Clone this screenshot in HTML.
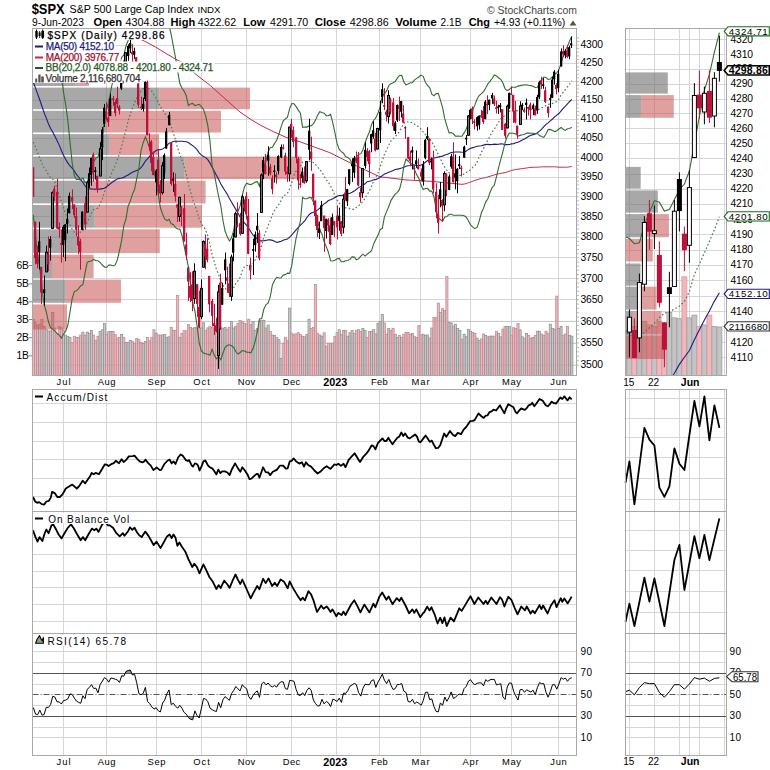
<!DOCTYPE html><html><head><meta charset="utf-8"><style>html,body{margin:0;padding:0;background:#fff;width:770px;height:770px;overflow:hidden}svg{display:block}</style></head><body><svg width="770" height="770" viewBox="0 0 770 770">
<rect width="770" height="770" fill="#fff"/>
<text x="31.7" y="14" font-family="Liberation Sans, sans-serif" font-size="15.5" font-weight="bold" fill="#000" textLength="33" lengthAdjust="spacingAndGlyphs">$SPX</text>
<text x="69.5" y="12.8" font-family="Liberation Sans, sans-serif" font-size="11.5" fill="#000" textLength="124" lengthAdjust="spacingAndGlyphs">S&amp;P 500 Large Cap Index</text>
<text x="197.5" y="12.5" font-family="Liberation Sans, sans-serif" font-size="9" fill="#000" textLength="23" lengthAdjust="spacingAndGlyphs">INDX</text>
<text x="487" y="13.5" font-family="Liberation Sans, sans-serif" font-size="11" fill="#444" textLength="90" lengthAdjust="spacingAndGlyphs">© StockCharts.com</text>
<text x="32" y="26" font-family="Liberation Sans, sans-serif" font-size="10.5" fill="#000" textLength="52.0" lengthAdjust="spacingAndGlyphs">9-Jun-2023</text>
<text x="93.5" y="26" font-family="Liberation Sans, sans-serif" font-size="11.5" font-weight="bold" fill="#000" textLength="28.5" lengthAdjust="spacingAndGlyphs">Open</text>
<text x="125.5" y="26" font-family="Liberation Sans, sans-serif" font-size="10.5" fill="#000" textLength="38.9" lengthAdjust="spacingAndGlyphs">4304.88</text>
<text x="170.6" y="26" font-family="Liberation Sans, sans-serif" font-size="11.5" font-weight="bold" fill="#000" textLength="24.6" lengthAdjust="spacingAndGlyphs">High</text>
<text x="197.8" y="26" font-family="Liberation Sans, sans-serif" font-size="10.5" fill="#000" textLength="38.4" lengthAdjust="spacingAndGlyphs">4322.62</text>
<text x="243.2" y="26" font-family="Liberation Sans, sans-serif" font-size="11.5" font-weight="bold" fill="#000" textLength="22.1" lengthAdjust="spacingAndGlyphs">Low</text>
<text x="270" y="26" font-family="Liberation Sans, sans-serif" font-size="10.5" fill="#000" textLength="38.2" lengthAdjust="spacingAndGlyphs">4291.70</text>
<text x="314.7" y="26" font-family="Liberation Sans, sans-serif" font-size="11.5" font-weight="bold" fill="#000" textLength="31.1" lengthAdjust="spacingAndGlyphs">Close</text>
<text x="349.7" y="26" font-family="Liberation Sans, sans-serif" font-size="10.5" fill="#000" textLength="39.0" lengthAdjust="spacingAndGlyphs">4298.86</text>
<text x="395.2" y="26" font-family="Liberation Sans, sans-serif" font-size="11.5" font-weight="bold" fill="#000" textLength="41.6" lengthAdjust="spacingAndGlyphs">Volume</text>
<text x="440.6" y="26" font-family="Liberation Sans, sans-serif" font-size="10.5" fill="#000" textLength="20.8" lengthAdjust="spacingAndGlyphs">2.1B</text>
<text x="468.7" y="26" font-family="Liberation Sans, sans-serif" font-size="11.5" font-weight="bold" fill="#000" textLength="21.3" lengthAdjust="spacingAndGlyphs">Chg</text>
<text x="493.9" y="26" font-family="Liberation Sans, sans-serif" font-size="10.5" fill="#000" textLength="71.4" lengthAdjust="spacingAndGlyphs">+4.93 (+0.11%)</text>
<path d="M569.5,25.5 L576.5,25.5 L573,20.5 Z" fill="#4a5a3a"/>
<line x1="32.5" y1="365.5" x2="576.5" y2="365.5" stroke="#d6d6d6" stroke-width="1"/>
<line x1="32.5" y1="343.5" x2="576.5" y2="343.5" stroke="#d6d6d6" stroke-width="1"/>
<line x1="32.5" y1="321.5" x2="576.5" y2="321.5" stroke="#d6d6d6" stroke-width="1"/>
<line x1="32.5" y1="299.5" x2="576.5" y2="299.5" stroke="#d6d6d6" stroke-width="1"/>
<line x1="32.5" y1="278.5" x2="576.5" y2="278.5" stroke="#d6d6d6" stroke-width="1"/>
<line x1="32.5" y1="257.5" x2="576.5" y2="257.5" stroke="#d6d6d6" stroke-width="1"/>
<line x1="32.5" y1="237.5" x2="576.5" y2="237.5" stroke="#d6d6d6" stroke-width="1"/>
<line x1="32.5" y1="216.5" x2="576.5" y2="216.5" stroke="#d6d6d6" stroke-width="1"/>
<line x1="32.5" y1="196.5" x2="576.5" y2="196.5" stroke="#d6d6d6" stroke-width="1"/>
<line x1="32.5" y1="177.5" x2="576.5" y2="177.5" stroke="#d6d6d6" stroke-width="1"/>
<line x1="32.5" y1="157.5" x2="576.5" y2="157.5" stroke="#d6d6d6" stroke-width="1"/>
<line x1="32.5" y1="138.5" x2="576.5" y2="138.5" stroke="#d6d6d6" stroke-width="1"/>
<line x1="32.5" y1="119.5" x2="576.5" y2="119.5" stroke="#d6d6d6" stroke-width="1"/>
<line x1="32.5" y1="100.5" x2="576.5" y2="100.5" stroke="#d6d6d6" stroke-width="1"/>
<line x1="32.5" y1="81.5" x2="576.5" y2="81.5" stroke="#d6d6d6" stroke-width="1"/>
<line x1="32.5" y1="63.5" x2="576.5" y2="63.5" stroke="#d6d6d6" stroke-width="1"/>
<line x1="32.5" y1="45.5" x2="576.5" y2="45.5" stroke="#d6d6d6" stroke-width="1"/>
<line x1="63.5" y1="28.5" x2="63.5" y2="375.5" stroke="#d6d6d6" stroke-width="1"/>
<line x1="106.5" y1="28.5" x2="106.5" y2="375.5" stroke="#d6d6d6" stroke-width="1"/>
<line x1="156.5" y1="28.5" x2="156.5" y2="375.5" stroke="#d6d6d6" stroke-width="1"/>
<line x1="201.5" y1="28.5" x2="201.5" y2="375.5" stroke="#d6d6d6" stroke-width="1"/>
<line x1="246.5" y1="28.5" x2="246.5" y2="375.5" stroke="#d6d6d6" stroke-width="1"/>
<line x1="291.5" y1="28.5" x2="291.5" y2="375.5" stroke="#d6d6d6" stroke-width="1"/>
<line x1="336.5" y1="28.5" x2="336.5" y2="375.5" stroke="#d6d6d6" stroke-width="1"/>
<line x1="379.5" y1="28.5" x2="379.5" y2="375.5" stroke="#d6d6d6" stroke-width="1"/>
<line x1="420.5" y1="28.5" x2="420.5" y2="375.5" stroke="#d6d6d6" stroke-width="1"/>
<line x1="470.5" y1="28.5" x2="470.5" y2="375.5" stroke="#d6d6d6" stroke-width="1"/>
<line x1="511.5" y1="28.5" x2="511.5" y2="375.5" stroke="#d6d6d6" stroke-width="1"/>
<line x1="558.5" y1="28.5" x2="558.5" y2="375.5" stroke="#d6d6d6" stroke-width="1"/>
<rect x="32.27" y="319.3" width="2.154" height="56.2" fill="#f4b4bc" stroke="#b88890" stroke-width="0.7"/>
<rect x="34.42" y="322.7" width="2.154" height="52.8" fill="#f4b4bc" stroke="#b88890" stroke-width="0.7"/>
<rect x="36.58" y="325.1" width="2.154" height="50.4" fill="#f4b4bc" stroke="#b88890" stroke-width="0.7"/>
<rect x="38.73" y="324.0" width="2.154" height="51.5" fill="#c8c8c8" stroke="#8c8c8c" stroke-width="0.7"/>
<rect x="40.88" y="319.3" width="2.154" height="56.2" fill="#f4b4bc" stroke="#b88890" stroke-width="0.7"/>
<rect x="43.04" y="326.3" width="2.154" height="49.2" fill="#c8c8c8" stroke="#8c8c8c" stroke-width="0.7"/>
<rect x="45.19" y="329.8" width="2.154" height="45.7" fill="#c8c8c8" stroke="#8c8c8c" stroke-width="0.7"/>
<rect x="47.34" y="331.0" width="2.154" height="44.5" fill="#f4b4bc" stroke="#b88890" stroke-width="0.7"/>
<rect x="49.50" y="331.0" width="2.154" height="44.5" fill="#c8c8c8" stroke="#8c8c8c" stroke-width="0.7"/>
<rect x="51.65" y="312.3" width="2.154" height="63.2" fill="#c8c8c8" stroke="#8c8c8c" stroke-width="0.7"/>
<rect x="53.81" y="328.0" width="2.154" height="47.5" fill="#f4b4bc" stroke="#b88890" stroke-width="0.7"/>
<rect x="55.96" y="333.9" width="2.154" height="41.6" fill="#f4b4bc" stroke="#b88890" stroke-width="0.7"/>
<rect x="58.12" y="326.3" width="2.154" height="49.2" fill="#f4b4bc" stroke="#b88890" stroke-width="0.7"/>
<rect x="60.27" y="327.8" width="2.154" height="47.7" fill="#f4b4bc" stroke="#b88890" stroke-width="0.7"/>
<rect x="62.42" y="330.4" width="2.154" height="45.1" fill="#c8c8c8" stroke="#8c8c8c" stroke-width="0.7"/>
<rect x="64.58" y="335.1" width="2.154" height="40.4" fill="#c8c8c8" stroke="#8c8c8c" stroke-width="0.7"/>
<rect x="66.73" y="336.4" width="2.154" height="39.1" fill="#c8c8c8" stroke="#8c8c8c" stroke-width="0.7"/>
<rect x="68.89" y="337.4" width="2.154" height="38.1" fill="#c8c8c8" stroke="#8c8c8c" stroke-width="0.7"/>
<rect x="71.04" y="342.7" width="2.154" height="32.8" fill="#f4b4bc" stroke="#b88890" stroke-width="0.7"/>
<rect x="73.19" y="336.2" width="2.154" height="39.3" fill="#f4b4bc" stroke="#b88890" stroke-width="0.7"/>
<rect x="75.35" y="337.4" width="2.154" height="38.1" fill="#f4b4bc" stroke="#b88890" stroke-width="0.7"/>
<rect x="77.50" y="337.4" width="2.154" height="38.1" fill="#f4b4bc" stroke="#b88890" stroke-width="0.7"/>
<rect x="79.66" y="335.1" width="2.154" height="40.4" fill="#f4b4bc" stroke="#b88890" stroke-width="0.7"/>
<rect x="81.81" y="332.1" width="2.154" height="43.4" fill="#c8c8c8" stroke="#8c8c8c" stroke-width="0.7"/>
<rect x="83.96" y="335.1" width="2.154" height="40.4" fill="#f4b4bc" stroke="#b88890" stroke-width="0.7"/>
<rect x="86.12" y="332.1" width="2.154" height="43.4" fill="#c8c8c8" stroke="#8c8c8c" stroke-width="0.7"/>
<rect x="88.27" y="333.3" width="2.154" height="42.2" fill="#c8c8c8" stroke="#8c8c8c" stroke-width="0.7"/>
<rect x="90.42" y="330.4" width="2.154" height="45.1" fill="#c8c8c8" stroke="#8c8c8c" stroke-width="0.7"/>
<rect x="92.58" y="335.1" width="2.154" height="40.4" fill="#f4b4bc" stroke="#b88890" stroke-width="0.7"/>
<rect x="94.73" y="340.3" width="2.154" height="35.2" fill="#c8c8c8" stroke="#8c8c8c" stroke-width="0.7"/>
<rect x="96.89" y="336.2" width="2.154" height="39.3" fill="#f4b4bc" stroke="#b88890" stroke-width="0.7"/>
<rect x="99.04" y="331.6" width="2.154" height="43.9" fill="#c8c8c8" stroke="#8c8c8c" stroke-width="0.7"/>
<rect x="101.19" y="329.8" width="2.154" height="45.7" fill="#c8c8c8" stroke="#8c8c8c" stroke-width="0.7"/>
<rect x="103.35" y="323.4" width="2.154" height="52.1" fill="#c8c8c8" stroke="#8c8c8c" stroke-width="0.7"/>
<rect x="105.50" y="334.5" width="2.154" height="41.0" fill="#f4b4bc" stroke="#b88890" stroke-width="0.7"/>
<rect x="107.66" y="331.6" width="2.154" height="43.9" fill="#f4b4bc" stroke="#b88890" stroke-width="0.7"/>
<rect x="109.81" y="331.6" width="2.154" height="43.9" fill="#c8c8c8" stroke="#8c8c8c" stroke-width="0.7"/>
<rect x="111.97" y="331.6" width="2.154" height="43.9" fill="#f4b4bc" stroke="#b88890" stroke-width="0.7"/>
<rect x="114.12" y="334.5" width="2.154" height="41.0" fill="#f4b4bc" stroke="#b88890" stroke-width="0.7"/>
<rect x="116.27" y="338.0" width="2.154" height="37.5" fill="#f4b4bc" stroke="#b88890" stroke-width="0.7"/>
<rect x="118.43" y="337.4" width="2.154" height="38.1" fill="#f4b4bc" stroke="#b88890" stroke-width="0.7"/>
<rect x="120.58" y="334.4" width="2.154" height="41.1" fill="#c8c8c8" stroke="#8c8c8c" stroke-width="0.7"/>
<rect x="122.73" y="337.3" width="2.154" height="38.2" fill="#f4b4bc" stroke="#b88890" stroke-width="0.7"/>
<rect x="124.89" y="342.6" width="2.154" height="32.9" fill="#c8c8c8" stroke="#8c8c8c" stroke-width="0.7"/>
<rect x="127.04" y="342.6" width="2.154" height="32.9" fill="#c8c8c8" stroke="#8c8c8c" stroke-width="0.7"/>
<rect x="129.20" y="340.3" width="2.154" height="35.2" fill="#c8c8c8" stroke="#8c8c8c" stroke-width="0.7"/>
<rect x="131.35" y="341.4" width="2.154" height="34.1" fill="#f4b4bc" stroke="#b88890" stroke-width="0.7"/>
<rect x="133.50" y="343.2" width="2.154" height="32.3" fill="#c8c8c8" stroke="#8c8c8c" stroke-width="0.7"/>
<rect x="135.66" y="338.5" width="2.154" height="37.0" fill="#f4b4bc" stroke="#b88890" stroke-width="0.7"/>
<rect x="137.81" y="339.7" width="2.154" height="35.8" fill="#f4b4bc" stroke="#b88890" stroke-width="0.7"/>
<rect x="139.97" y="342.6" width="2.154" height="32.9" fill="#f4b4bc" stroke="#b88890" stroke-width="0.7"/>
<rect x="142.12" y="343.2" width="2.154" height="32.3" fill="#c8c8c8" stroke="#8c8c8c" stroke-width="0.7"/>
<rect x="144.28" y="341.4" width="2.154" height="34.1" fill="#c8c8c8" stroke="#8c8c8c" stroke-width="0.7"/>
<rect x="146.43" y="337.3" width="2.154" height="38.2" fill="#f4b4bc" stroke="#b88890" stroke-width="0.7"/>
<rect x="148.58" y="340.8" width="2.154" height="34.7" fill="#f4b4bc" stroke="#b88890" stroke-width="0.7"/>
<rect x="150.74" y="337.3" width="2.154" height="38.2" fill="#f4b4bc" stroke="#b88890" stroke-width="0.7"/>
<rect x="152.89" y="329.7" width="2.154" height="45.8" fill="#f4b4bc" stroke="#b88890" stroke-width="0.7"/>
<rect x="155.05" y="333.2" width="2.154" height="42.3" fill="#c8c8c8" stroke="#8c8c8c" stroke-width="0.7"/>
<rect x="157.20" y="335.0" width="2.154" height="40.5" fill="#f4b4bc" stroke="#b88890" stroke-width="0.7"/>
<rect x="159.35" y="335.0" width="2.154" height="40.5" fill="#f4b4bc" stroke="#b88890" stroke-width="0.7"/>
<rect x="161.51" y="335.0" width="2.154" height="40.5" fill="#c8c8c8" stroke="#8c8c8c" stroke-width="0.7"/>
<rect x="163.66" y="334.4" width="2.154" height="41.1" fill="#c8c8c8" stroke="#8c8c8c" stroke-width="0.7"/>
<rect x="165.81" y="337.3" width="2.154" height="38.2" fill="#c8c8c8" stroke="#8c8c8c" stroke-width="0.7"/>
<rect x="167.97" y="336.8" width="2.154" height="38.7" fill="#c8c8c8" stroke="#8c8c8c" stroke-width="0.7"/>
<rect x="170.12" y="327.4" width="2.154" height="48.1" fill="#f4b4bc" stroke="#b88890" stroke-width="0.7"/>
<rect x="172.28" y="330.3" width="2.154" height="45.2" fill="#c8c8c8" stroke="#8c8c8c" stroke-width="0.7"/>
<rect x="174.43" y="330.3" width="2.154" height="45.2" fill="#f4b4bc" stroke="#b88890" stroke-width="0.7"/>
<rect x="176.58" y="295.3" width="2.154" height="80.2" fill="#f4b4bc" stroke="#b88890" stroke-width="0.7"/>
<rect x="178.74" y="337.3" width="2.154" height="38.2" fill="#c8c8c8" stroke="#8c8c8c" stroke-width="0.7"/>
<rect x="180.89" y="333.2" width="2.154" height="42.3" fill="#f4b4bc" stroke="#b88890" stroke-width="0.7"/>
<rect x="183.05" y="330.3" width="2.154" height="45.2" fill="#f4b4bc" stroke="#b88890" stroke-width="0.7"/>
<rect x="185.20" y="330.9" width="2.154" height="44.6" fill="#f4b4bc" stroke="#b88890" stroke-width="0.7"/>
<rect x="187.35" y="324.5" width="2.154" height="51.0" fill="#f4b4bc" stroke="#b88890" stroke-width="0.7"/>
<rect x="189.51" y="327.4" width="2.154" height="48.1" fill="#f4b4bc" stroke="#b88890" stroke-width="0.7"/>
<rect x="191.66" y="328.6" width="2.154" height="46.9" fill="#f4b4bc" stroke="#b88890" stroke-width="0.7"/>
<rect x="193.82" y="327.4" width="2.154" height="48.1" fill="#c8c8c8" stroke="#8c8c8c" stroke-width="0.7"/>
<rect x="195.97" y="328.0" width="2.154" height="47.5" fill="#f4b4bc" stroke="#b88890" stroke-width="0.7"/>
<rect x="198.12" y="328.0" width="2.154" height="47.5" fill="#f4b4bc" stroke="#b88890" stroke-width="0.7"/>
<rect x="200.28" y="328.0" width="2.154" height="47.5" fill="#c8c8c8" stroke="#8c8c8c" stroke-width="0.7"/>
<rect x="202.43" y="322.7" width="2.154" height="52.8" fill="#c8c8c8" stroke="#8c8c8c" stroke-width="0.7"/>
<rect x="204.59" y="330.3" width="2.154" height="45.2" fill="#f4b4bc" stroke="#b88890" stroke-width="0.7"/>
<rect x="206.74" y="327.9" width="2.154" height="47.6" fill="#f4b4bc" stroke="#b88890" stroke-width="0.7"/>
<rect x="208.89" y="326.2" width="2.154" height="49.3" fill="#f4b4bc" stroke="#b88890" stroke-width="0.7"/>
<rect x="211.05" y="327.4" width="2.154" height="48.1" fill="#f4b4bc" stroke="#b88890" stroke-width="0.7"/>
<rect x="213.20" y="328.6" width="2.154" height="46.9" fill="#f4b4bc" stroke="#b88890" stroke-width="0.7"/>
<rect x="215.36" y="326.2" width="2.154" height="49.3" fill="#f4b4bc" stroke="#b88890" stroke-width="0.7"/>
<rect x="217.51" y="327.4" width="2.154" height="48.1" fill="#c8c8c8" stroke="#8c8c8c" stroke-width="0.7"/>
<rect x="219.66" y="327.4" width="2.154" height="48.1" fill="#f4b4bc" stroke="#b88890" stroke-width="0.7"/>
<rect x="221.82" y="328.6" width="2.154" height="46.9" fill="#c8c8c8" stroke="#8c8c8c" stroke-width="0.7"/>
<rect x="223.97" y="327.4" width="2.154" height="48.1" fill="#c8c8c8" stroke="#8c8c8c" stroke-width="0.7"/>
<rect x="226.13" y="329.2" width="2.154" height="46.3" fill="#f4b4bc" stroke="#b88890" stroke-width="0.7"/>
<rect x="228.28" y="327.4" width="2.154" height="48.1" fill="#f4b4bc" stroke="#b88890" stroke-width="0.7"/>
<rect x="230.44" y="321.6" width="2.154" height="53.9" fill="#c8c8c8" stroke="#8c8c8c" stroke-width="0.7"/>
<rect x="232.59" y="328.0" width="2.154" height="47.5" fill="#c8c8c8" stroke="#8c8c8c" stroke-width="0.7"/>
<rect x="234.74" y="326.2" width="2.154" height="49.3" fill="#c8c8c8" stroke="#8c8c8c" stroke-width="0.7"/>
<rect x="236.90" y="323.3" width="2.154" height="52.2" fill="#f4b4bc" stroke="#b88890" stroke-width="0.7"/>
<rect x="239.05" y="320.4" width="2.154" height="55.1" fill="#f4b4bc" stroke="#b88890" stroke-width="0.7"/>
<rect x="241.20" y="321.9" width="2.154" height="53.6" fill="#c8c8c8" stroke="#8c8c8c" stroke-width="0.7"/>
<rect x="243.36" y="323.3" width="2.154" height="52.2" fill="#f4b4bc" stroke="#b88890" stroke-width="0.7"/>
<rect x="245.51" y="323.9" width="2.154" height="51.6" fill="#f4b4bc" stroke="#b88890" stroke-width="0.7"/>
<rect x="247.67" y="319.2" width="2.154" height="56.3" fill="#f4b4bc" stroke="#b88890" stroke-width="0.7"/>
<rect x="249.82" y="324.5" width="2.154" height="51.0" fill="#f4b4bc" stroke="#b88890" stroke-width="0.7"/>
<rect x="251.97" y="321.6" width="2.154" height="53.9" fill="#c8c8c8" stroke="#8c8c8c" stroke-width="0.7"/>
<rect x="254.13" y="330.3" width="2.154" height="45.2" fill="#c8c8c8" stroke="#8c8c8c" stroke-width="0.7"/>
<rect x="256.28" y="328.6" width="2.154" height="46.9" fill="#c8c8c8" stroke="#8c8c8c" stroke-width="0.7"/>
<rect x="258.44" y="321.0" width="2.154" height="54.5" fill="#f4b4bc" stroke="#b88890" stroke-width="0.7"/>
<rect x="260.59" y="320.7" width="2.154" height="54.8" fill="#c8c8c8" stroke="#8c8c8c" stroke-width="0.7"/>
<rect x="262.75" y="320.4" width="2.154" height="55.1" fill="#c8c8c8" stroke="#8c8c8c" stroke-width="0.7"/>
<rect x="264.90" y="328.0" width="2.154" height="47.5" fill="#f4b4bc" stroke="#b88890" stroke-width="0.7"/>
<rect x="267.05" y="325.1" width="2.154" height="50.4" fill="#c8c8c8" stroke="#8c8c8c" stroke-width="0.7"/>
<rect x="269.21" y="331.5" width="2.154" height="44.0" fill="#f4b4bc" stroke="#b88890" stroke-width="0.7"/>
<rect x="271.36" y="335.0" width="2.154" height="40.5" fill="#f4b4bc" stroke="#b88890" stroke-width="0.7"/>
<rect x="273.51" y="335.6" width="2.154" height="39.9" fill="#c8c8c8" stroke="#8c8c8c" stroke-width="0.7"/>
<rect x="275.67" y="337.3" width="2.154" height="38.2" fill="#f4b4bc" stroke="#b88890" stroke-width="0.7"/>
<rect x="277.82" y="339.7" width="2.154" height="35.8" fill="#c8c8c8" stroke="#8c8c8c" stroke-width="0.7"/>
<rect x="279.98" y="358.4" width="2.154" height="17.1" fill="#c8c8c8" stroke="#8c8c8c" stroke-width="0.7"/>
<rect x="282.13" y="343.2" width="2.154" height="32.3" fill="#f4b4bc" stroke="#b88890" stroke-width="0.7"/>
<rect x="284.28" y="337.3" width="2.154" height="38.2" fill="#f4b4bc" stroke="#b88890" stroke-width="0.7"/>
<rect x="286.44" y="340.3" width="2.154" height="35.2" fill="#f4b4bc" stroke="#b88890" stroke-width="0.7"/>
<rect x="288.59" y="308.1" width="2.154" height="67.4" fill="#c8c8c8" stroke="#8c8c8c" stroke-width="0.7"/>
<rect x="290.75" y="333.2" width="2.154" height="42.3" fill="#f4b4bc" stroke="#b88890" stroke-width="0.7"/>
<rect x="292.90" y="334.4" width="2.154" height="41.1" fill="#f4b4bc" stroke="#b88890" stroke-width="0.7"/>
<rect x="295.06" y="333.8" width="2.154" height="41.7" fill="#f4b4bc" stroke="#b88890" stroke-width="0.7"/>
<rect x="297.21" y="332.7" width="2.154" height="42.8" fill="#f4b4bc" stroke="#b88890" stroke-width="0.7"/>
<rect x="299.36" y="334.4" width="2.154" height="41.1" fill="#f4b4bc" stroke="#b88890" stroke-width="0.7"/>
<rect x="301.52" y="336.2" width="2.154" height="39.3" fill="#c8c8c8" stroke="#8c8c8c" stroke-width="0.7"/>
<rect x="303.67" y="336.8" width="2.154" height="38.7" fill="#f4b4bc" stroke="#b88890" stroke-width="0.7"/>
<rect x="305.82" y="334.4" width="2.154" height="41.1" fill="#c8c8c8" stroke="#8c8c8c" stroke-width="0.7"/>
<rect x="307.98" y="319.2" width="2.154" height="56.3" fill="#c8c8c8" stroke="#8c8c8c" stroke-width="0.7"/>
<rect x="310.13" y="328.6" width="2.154" height="46.9" fill="#f4b4bc" stroke="#b88890" stroke-width="0.7"/>
<rect x="312.29" y="327.4" width="2.154" height="48.1" fill="#f4b4bc" stroke="#b88890" stroke-width="0.7"/>
<rect x="314.44" y="284.4" width="2.154" height="91.1" fill="#f4b4bc" stroke="#b88890" stroke-width="0.7"/>
<rect x="316.60" y="333.2" width="2.154" height="42.3" fill="#f4b4bc" stroke="#b88890" stroke-width="0.7"/>
<rect x="318.75" y="335.0" width="2.154" height="40.5" fill="#c8c8c8" stroke="#8c8c8c" stroke-width="0.7"/>
<rect x="320.90" y="336.2" width="2.154" height="39.3" fill="#c8c8c8" stroke="#8c8c8c" stroke-width="0.7"/>
<rect x="323.06" y="332.7" width="2.154" height="42.8" fill="#f4b4bc" stroke="#b88890" stroke-width="0.7"/>
<rect x="325.21" y="346.1" width="2.154" height="29.4" fill="#c8c8c8" stroke="#8c8c8c" stroke-width="0.7"/>
<rect x="327.37" y="343.2" width="2.154" height="32.3" fill="#f4b4bc" stroke="#b88890" stroke-width="0.7"/>
<rect x="329.52" y="343.2" width="2.154" height="32.3" fill="#f4b4bc" stroke="#b88890" stroke-width="0.7"/>
<rect x="331.67" y="343.2" width="2.154" height="32.3" fill="#c8c8c8" stroke="#8c8c8c" stroke-width="0.7"/>
<rect x="333.83" y="336.3" width="2.154" height="39.2" fill="#f4b4bc" stroke="#b88890" stroke-width="0.7"/>
<rect x="335.98" y="332.7" width="2.154" height="42.8" fill="#f4b4bc" stroke="#b88890" stroke-width="0.7"/>
<rect x="338.13" y="329.7" width="2.154" height="45.8" fill="#c8c8c8" stroke="#8c8c8c" stroke-width="0.7"/>
<rect x="340.29" y="334.4" width="2.154" height="41.1" fill="#f4b4bc" stroke="#b88890" stroke-width="0.7"/>
<rect x="342.44" y="330.3" width="2.154" height="45.2" fill="#c8c8c8" stroke="#8c8c8c" stroke-width="0.7"/>
<rect x="344.60" y="330.3" width="2.154" height="45.2" fill="#f4b4bc" stroke="#b88890" stroke-width="0.7"/>
<rect x="346.75" y="336.2" width="2.154" height="39.3" fill="#c8c8c8" stroke="#8c8c8c" stroke-width="0.7"/>
<rect x="348.90" y="332.7" width="2.154" height="42.8" fill="#c8c8c8" stroke="#8c8c8c" stroke-width="0.7"/>
<rect x="351.06" y="330.3" width="2.154" height="45.2" fill="#c8c8c8" stroke="#8c8c8c" stroke-width="0.7"/>
<rect x="353.21" y="333.2" width="2.154" height="42.3" fill="#c8c8c8" stroke="#8c8c8c" stroke-width="0.7"/>
<rect x="355.37" y="330.3" width="2.154" height="45.2" fill="#f4b4bc" stroke="#b88890" stroke-width="0.7"/>
<rect x="357.52" y="329.7" width="2.154" height="45.8" fill="#f4b4bc" stroke="#b88890" stroke-width="0.7"/>
<rect x="359.68" y="331.5" width="2.154" height="44.0" fill="#f4b4bc" stroke="#b88890" stroke-width="0.7"/>
<rect x="361.83" y="328.6" width="2.154" height="46.9" fill="#c8c8c8" stroke="#8c8c8c" stroke-width="0.7"/>
<rect x="363.98" y="330.3" width="2.154" height="45.2" fill="#c8c8c8" stroke="#8c8c8c" stroke-width="0.7"/>
<rect x="366.14" y="337.3" width="2.154" height="38.2" fill="#f4b4bc" stroke="#b88890" stroke-width="0.7"/>
<rect x="368.29" y="331.5" width="2.154" height="44.0" fill="#f4b4bc" stroke="#b88890" stroke-width="0.7"/>
<rect x="370.44" y="331.5" width="2.154" height="44.0" fill="#c8c8c8" stroke="#8c8c8c" stroke-width="0.7"/>
<rect x="372.60" y="329.7" width="2.154" height="45.8" fill="#c8c8c8" stroke="#8c8c8c" stroke-width="0.7"/>
<rect x="374.75" y="333.8" width="2.154" height="41.7" fill="#f4b4bc" stroke="#b88890" stroke-width="0.7"/>
<rect x="376.91" y="323.3" width="2.154" height="52.2" fill="#c8c8c8" stroke="#8c8c8c" stroke-width="0.7"/>
<rect x="379.06" y="321.6" width="2.154" height="53.9" fill="#c8c8c8" stroke="#8c8c8c" stroke-width="0.7"/>
<rect x="381.21" y="314.5" width="2.154" height="61.0" fill="#c8c8c8" stroke="#8c8c8c" stroke-width="0.7"/>
<rect x="383.37" y="323.0" width="2.154" height="52.5" fill="#f4b4bc" stroke="#b88890" stroke-width="0.7"/>
<rect x="385.52" y="334.2" width="2.154" height="41.3" fill="#f4b4bc" stroke="#b88890" stroke-width="0.7"/>
<rect x="387.68" y="328.6" width="2.154" height="46.9" fill="#c8c8c8" stroke="#8c8c8c" stroke-width="0.7"/>
<rect x="389.83" y="330.5" width="2.154" height="45.0" fill="#f4b4bc" stroke="#b88890" stroke-width="0.7"/>
<rect x="391.99" y="328.6" width="2.154" height="46.9" fill="#f4b4bc" stroke="#b88890" stroke-width="0.7"/>
<rect x="394.14" y="334.2" width="2.154" height="41.3" fill="#c8c8c8" stroke="#8c8c8c" stroke-width="0.7"/>
<rect x="396.29" y="337.4" width="2.154" height="38.1" fill="#c8c8c8" stroke="#8c8c8c" stroke-width="0.7"/>
<rect x="398.45" y="335.5" width="2.154" height="40.0" fill="#f4b4bc" stroke="#b88890" stroke-width="0.7"/>
<rect x="400.60" y="337.4" width="2.154" height="38.1" fill="#c8c8c8" stroke="#8c8c8c" stroke-width="0.7"/>
<rect x="402.75" y="334.2" width="2.154" height="41.3" fill="#f4b4bc" stroke="#b88890" stroke-width="0.7"/>
<rect x="404.91" y="332.4" width="2.154" height="43.1" fill="#f4b4bc" stroke="#b88890" stroke-width="0.7"/>
<rect x="407.06" y="332.4" width="2.154" height="43.1" fill="#f4b4bc" stroke="#b88890" stroke-width="0.7"/>
<rect x="409.22" y="334.2" width="2.154" height="41.3" fill="#f4b4bc" stroke="#b88890" stroke-width="0.7"/>
<rect x="411.37" y="333.6" width="2.154" height="41.9" fill="#c8c8c8" stroke="#8c8c8c" stroke-width="0.7"/>
<rect x="413.52" y="336.7" width="2.154" height="38.8" fill="#f4b4bc" stroke="#b88890" stroke-width="0.7"/>
<rect x="415.68" y="337.4" width="2.154" height="38.1" fill="#c8c8c8" stroke="#8c8c8c" stroke-width="0.7"/>
<rect x="417.83" y="325.5" width="2.154" height="50.0" fill="#f4b4bc" stroke="#b88890" stroke-width="0.7"/>
<rect x="419.99" y="334.9" width="2.154" height="40.6" fill="#f4b4bc" stroke="#b88890" stroke-width="0.7"/>
<rect x="422.14" y="334.2" width="2.154" height="41.3" fill="#c8c8c8" stroke="#8c8c8c" stroke-width="0.7"/>
<rect x="424.29" y="335.5" width="2.154" height="40.0" fill="#c8c8c8" stroke="#8c8c8c" stroke-width="0.7"/>
<rect x="426.45" y="334.9" width="2.154" height="40.6" fill="#c8c8c8" stroke="#8c8c8c" stroke-width="0.7"/>
<rect x="428.60" y="338.0" width="2.154" height="37.5" fill="#f4b4bc" stroke="#b88890" stroke-width="0.7"/>
<rect x="430.76" y="328.0" width="2.154" height="47.5" fill="#c8c8c8" stroke="#8c8c8c" stroke-width="0.7"/>
<rect x="432.91" y="317.4" width="2.154" height="58.1" fill="#f4b4bc" stroke="#b88890" stroke-width="0.7"/>
<rect x="435.06" y="317.4" width="2.154" height="58.1" fill="#f4b4bc" stroke="#b88890" stroke-width="0.7"/>
<rect x="437.22" y="303.1" width="2.154" height="72.4" fill="#f4b4bc" stroke="#b88890" stroke-width="0.7"/>
<rect x="439.37" y="312.4" width="2.154" height="63.1" fill="#c8c8c8" stroke="#8c8c8c" stroke-width="0.7"/>
<rect x="441.53" y="308.7" width="2.154" height="66.8" fill="#f4b4bc" stroke="#b88890" stroke-width="0.7"/>
<rect x="443.68" y="310.5" width="2.154" height="65.0" fill="#c8c8c8" stroke="#8c8c8c" stroke-width="0.7"/>
<rect x="445.83" y="276.6" width="2.154" height="98.9" fill="#f4b4bc" stroke="#b88890" stroke-width="0.7"/>
<rect x="447.99" y="322.4" width="2.154" height="53.1" fill="#c8c8c8" stroke="#8c8c8c" stroke-width="0.7"/>
<rect x="450.14" y="323.0" width="2.154" height="52.5" fill="#c8c8c8" stroke="#8c8c8c" stroke-width="0.7"/>
<rect x="452.30" y="326.1" width="2.154" height="49.4" fill="#f4b4bc" stroke="#b88890" stroke-width="0.7"/>
<rect x="454.45" y="324.3" width="2.154" height="51.2" fill="#c8c8c8" stroke="#8c8c8c" stroke-width="0.7"/>
<rect x="456.60" y="328.6" width="2.154" height="46.9" fill="#c8c8c8" stroke="#8c8c8c" stroke-width="0.7"/>
<rect x="458.76" y="330.5" width="2.154" height="45.0" fill="#c8c8c8" stroke="#8c8c8c" stroke-width="0.7"/>
<rect x="460.91" y="339.2" width="2.154" height="36.3" fill="#f4b4bc" stroke="#b88890" stroke-width="0.7"/>
<rect x="463.07" y="334.2" width="2.154" height="41.3" fill="#c8c8c8" stroke="#8c8c8c" stroke-width="0.7"/>
<rect x="465.22" y="336.7" width="2.154" height="38.8" fill="#c8c8c8" stroke="#8c8c8c" stroke-width="0.7"/>
<rect x="467.38" y="329.3" width="2.154" height="46.2" fill="#c8c8c8" stroke="#8c8c8c" stroke-width="0.7"/>
<rect x="469.53" y="331.2" width="2.154" height="44.3" fill="#c8c8c8" stroke="#8c8c8c" stroke-width="0.7"/>
<rect x="471.68" y="332.4" width="2.154" height="43.1" fill="#f4b4bc" stroke="#b88890" stroke-width="0.7"/>
<rect x="473.84" y="333.3" width="2.154" height="42.2" fill="#f4b4bc" stroke="#b88890" stroke-width="0.7"/>
<rect x="475.99" y="338.2" width="2.154" height="37.3" fill="#c8c8c8" stroke="#8c8c8c" stroke-width="0.7"/>
<rect x="478.14" y="340.3" width="2.154" height="35.2" fill="#c8c8c8" stroke="#8c8c8c" stroke-width="0.7"/>
<rect x="480.30" y="338.9" width="2.154" height="36.6" fill="#f4b4bc" stroke="#b88890" stroke-width="0.7"/>
<rect x="482.45" y="334.0" width="2.154" height="41.5" fill="#f4b4bc" stroke="#b88890" stroke-width="0.7"/>
<rect x="484.61" y="335.4" width="2.154" height="40.1" fill="#c8c8c8" stroke="#8c8c8c" stroke-width="0.7"/>
<rect x="486.76" y="336.8" width="2.154" height="38.7" fill="#f4b4bc" stroke="#b88890" stroke-width="0.7"/>
<rect x="488.91" y="336.1" width="2.154" height="39.4" fill="#c8c8c8" stroke="#8c8c8c" stroke-width="0.7"/>
<rect x="491.07" y="336.1" width="2.154" height="39.4" fill="#c8c8c8" stroke="#8c8c8c" stroke-width="0.7"/>
<rect x="493.22" y="336.1" width="2.154" height="39.4" fill="#f4b4bc" stroke="#b88890" stroke-width="0.7"/>
<rect x="495.38" y="331.2" width="2.154" height="44.3" fill="#f4b4bc" stroke="#b88890" stroke-width="0.7"/>
<rect x="497.53" y="333.3" width="2.154" height="42.2" fill="#c8c8c8" stroke="#8c8c8c" stroke-width="0.7"/>
<rect x="499.69" y="336.8" width="2.154" height="38.7" fill="#c8c8c8" stroke="#8c8c8c" stroke-width="0.7"/>
<rect x="501.84" y="329.1" width="2.154" height="46.4" fill="#f4b4bc" stroke="#b88890" stroke-width="0.7"/>
<rect x="503.99" y="326.3" width="2.154" height="49.2" fill="#f4b4bc" stroke="#b88890" stroke-width="0.7"/>
<rect x="506.15" y="326.3" width="2.154" height="49.2" fill="#c8c8c8" stroke="#8c8c8c" stroke-width="0.7"/>
<rect x="508.30" y="326.3" width="2.154" height="49.2" fill="#c8c8c8" stroke="#8c8c8c" stroke-width="0.7"/>
<rect x="510.45" y="335.4" width="2.154" height="40.1" fill="#f4b4bc" stroke="#b88890" stroke-width="0.7"/>
<rect x="512.61" y="327.7" width="2.154" height="47.8" fill="#f4b4bc" stroke="#b88890" stroke-width="0.7"/>
<rect x="514.76" y="328.4" width="2.154" height="47.1" fill="#f4b4bc" stroke="#b88890" stroke-width="0.7"/>
<rect x="516.92" y="323.5" width="2.154" height="52.0" fill="#f4b4bc" stroke="#b88890" stroke-width="0.7"/>
<rect x="519.07" y="329.8" width="2.154" height="45.7" fill="#c8c8c8" stroke="#8c8c8c" stroke-width="0.7"/>
<rect x="521.22" y="336.8" width="2.154" height="38.7" fill="#c8c8c8" stroke="#8c8c8c" stroke-width="0.7"/>
<rect x="523.38" y="338.2" width="2.154" height="37.3" fill="#f4b4bc" stroke="#b88890" stroke-width="0.7"/>
<rect x="525.53" y="333.3" width="2.154" height="42.2" fill="#c8c8c8" stroke="#8c8c8c" stroke-width="0.7"/>
<rect x="527.69" y="335.4" width="2.154" height="40.1" fill="#f4b4bc" stroke="#b88890" stroke-width="0.7"/>
<rect x="529.84" y="338.2" width="2.154" height="37.3" fill="#f4b4bc" stroke="#b88890" stroke-width="0.7"/>
<rect x="532.00" y="337.5" width="2.154" height="38.0" fill="#c8c8c8" stroke="#8c8c8c" stroke-width="0.7"/>
<rect x="534.15" y="335.4" width="2.154" height="40.1" fill="#f4b4bc" stroke="#b88890" stroke-width="0.7"/>
<rect x="536.30" y="331.2" width="2.154" height="44.3" fill="#c8c8c8" stroke="#8c8c8c" stroke-width="0.7"/>
<rect x="538.46" y="331.2" width="2.154" height="44.3" fill="#c8c8c8" stroke="#8c8c8c" stroke-width="0.7"/>
<rect x="540.61" y="334.0" width="2.154" height="41.5" fill="#f4b4bc" stroke="#b88890" stroke-width="0.7"/>
<rect x="542.76" y="335.4" width="2.154" height="40.1" fill="#c8c8c8" stroke="#8c8c8c" stroke-width="0.7"/>
<rect x="544.92" y="331.2" width="2.154" height="44.3" fill="#f4b4bc" stroke="#b88890" stroke-width="0.7"/>
<rect x="547.07" y="333.3" width="2.154" height="42.2" fill="#f4b4bc" stroke="#b88890" stroke-width="0.7"/>
<rect x="549.23" y="324.2" width="2.154" height="51.3" fill="#c8c8c8" stroke="#8c8c8c" stroke-width="0.7"/>
<rect x="551.38" y="328.4" width="2.154" height="47.1" fill="#c8c8c8" stroke="#8c8c8c" stroke-width="0.7"/>
<rect x="553.53" y="329.1" width="2.154" height="46.4" fill="#c8c8c8" stroke="#8c8c8c" stroke-width="0.7"/>
<rect x="555.69" y="296.1" width="2.154" height="79.4" fill="#f4b4bc" stroke="#b88890" stroke-width="0.7"/>
<rect x="557.84" y="328.4" width="2.154" height="47.1" fill="#c8c8c8" stroke="#8c8c8c" stroke-width="0.7"/>
<rect x="560.00" y="326.3" width="2.154" height="49.2" fill="#c8c8c8" stroke="#8c8c8c" stroke-width="0.7"/>
<rect x="562.15" y="335.4" width="2.154" height="40.1" fill="#f4b4bc" stroke="#b88890" stroke-width="0.7"/>
<rect x="564.31" y="334.0" width="2.154" height="41.5" fill="#c8c8c8" stroke="#8c8c8c" stroke-width="0.7"/>
<rect x="566.46" y="326.3" width="2.154" height="49.2" fill="#f4b4bc" stroke="#b88890" stroke-width="0.7"/>
<rect x="568.61" y="335.4" width="2.154" height="40.1" fill="#c8c8c8" stroke="#8c8c8c" stroke-width="0.7"/>
<rect x="570.77" y="336.1" width="2.154" height="39.4" fill="#c8c8c8" stroke="#8c8c8c" stroke-width="0.7"/>
<rect x="32.5" y="64.8" width="42.5" height="21.2" fill="#6e6e6e" fill-opacity="0.6"/>
<rect x="75.0" y="64.8" width="14.0" height="21.2" fill="#c85050" fill-opacity="0.54"/>
<rect x="32.5" y="87.6" width="127.0" height="21.6" fill="#6e6e6e" fill-opacity="0.6"/>
<rect x="159.5" y="87.6" width="90.5" height="21.6" fill="#c85050" fill-opacity="0.54"/>
<rect x="32.5" y="110.8" width="73.5" height="21.7" fill="#6e6e6e" fill-opacity="0.6"/>
<rect x="106.0" y="110.8" width="115.0" height="21.7" fill="#c85050" fill-opacity="0.54"/>
<rect x="32.5" y="134.1" width="77.2" height="20.9" fill="#6e6e6e" fill-opacity="0.6"/>
<rect x="109.7" y="134.1" width="49.3" height="20.9" fill="#c85050" fill-opacity="0.54"/>
<rect x="32.5" y="156.6" width="152.0" height="22.5" fill="#6e6e6e" fill-opacity="0.6"/>
<rect x="184.5" y="156.6" width="117.2" height="22.5" fill="#c85050" fill-opacity="0.54"/>
<rect x="32.5" y="180.7" width="55.0" height="22.7" fill="#6e6e6e" fill-opacity="0.6"/>
<rect x="87.5" y="180.7" width="118.1" height="22.7" fill="#c85050" fill-opacity="0.54"/>
<rect x="32.5" y="205.0" width="62.1" height="22.7" fill="#6e6e6e" fill-opacity="0.6"/>
<rect x="94.6" y="205.0" width="107.4" height="22.7" fill="#c85050" fill-opacity="0.54"/>
<rect x="32.5" y="229.3" width="44.5" height="23.8" fill="#6e6e6e" fill-opacity="0.6"/>
<rect x="77.0" y="229.3" width="82.8" height="23.8" fill="#c85050" fill-opacity="0.54"/>
<rect x="32.5" y="254.7" width="19.5" height="23.3" fill="#6e6e6e" fill-opacity="0.6"/>
<rect x="52.0" y="254.7" width="41.6" height="23.3" fill="#c85050" fill-opacity="0.54"/>
<rect x="32.5" y="279.6" width="33.2" height="23.2" fill="#6e6e6e" fill-opacity="0.6"/>
<rect x="65.7" y="279.6" width="55.3" height="23.2" fill="#c85050" fill-opacity="0.54"/>
<rect x="32.5" y="304.4" width="34.5" height="25.1" fill="#c85050" fill-opacity="0.54"/>
<line x1="32.5" y1="321.3" x2="576.5" y2="321.3" stroke="#999" stroke-opacity="0.25" stroke-width="1"/>
<line x1="32.5" y1="343.0" x2="576.5" y2="343.0" stroke="#999" stroke-opacity="0.25" stroke-width="1"/>
<line x1="32.5" y1="365.1" x2="576.5" y2="365.1" stroke="#999" stroke-opacity="0.25" stroke-width="1"/>
<defs><clipPath id="cp"><rect x="32.5" y="28.5" width="544.0" height="347.0"/></clipPath><clipPath id="cpm"><rect x="625.5" y="28.5" width="101.0" height="347.0"/></clipPath></defs>
<g clip-path="url(#cp)">
<path d="M33.3,142.1 L35.5,147.4 L37.7,152.7 L39.8,158.5 L42.0,163.5 L44.1,167.9 L46.3,170.6 L48.4,174.8 L50.6,177.7 L52.7,179.0 L54.9,182.1 L57.0,188.8 L59.2,195.0 L61.3,201.3 L63.5,208.3 L65.7,213.9 L67.8,219.5 L70.0,224.7 L72.1,229.1 L74.3,232.4 L76.4,234.1 L78.6,233.1 L80.7,231.9 L82.9,230.4 L85.0,227.1 L87.2,221.8 L89.3,217.8 L91.5,213.0 L93.7,209.7 L95.8,208.6 L98.0,208.2 L100.1,204.1 L102.3,199.0 L104.4,192.2 L106.6,186.3 L108.7,181.2 L110.9,175.1 L113.0,170.2 L115.2,165.4 L117.3,159.8 L119.5,153.9 L121.7,146.0 L123.8,138.0 L126.0,130.0 L128.1,121.1 L130.3,114.2 L132.4,108.2 L134.6,102.9 L136.7,97.9 L138.9,94.7 L141.0,90.8 L143.2,88.6 L145.4,86.3 L147.5,87.6 L149.7,89.3 L151.8,91.2 L154.0,94.9 L156.1,98.4 L158.3,102.5 L160.4,106.9 L162.6,109.6 L164.7,113.4 L166.9,116.1 L169.0,119.3 L171.2,126.2 L173.4,133.1 L175.5,140.2 L177.7,148.1 L179.8,154.5 L182.0,160.0 L184.1,166.6 L186.3,174.1 L188.4,184.1 L190.6,192.0 L192.7,199.7 L194.9,205.0 L197.0,211.3 L199.2,219.0 L201.4,224.0 L203.5,226.4 L205.7,230.4 L207.8,235.7 L210.0,244.5 L212.1,254.8 L214.3,261.9 L216.4,269.6 L218.6,274.4 L220.7,280.5 L222.9,285.2 L225.0,288.1 L227.2,290.1 L229.4,292.0 L231.5,290.8 L233.7,287.8 L235.8,283.3 L238.0,280.9 L240.1,277.4 L242.3,270.8 L244.4,266.8 L246.6,265.4 L248.7,265.9 L250.9,266.4 L253.1,263.7 L255.2,259.7 L257.4,254.7 L259.5,251.2 L261.7,245.3 L263.8,236.9 L266.0,231.1 L268.1,225.6 L270.3,220.3 L272.4,214.6 L274.6,210.3 L276.7,207.3 L278.9,204.4 L281.1,200.4 L283.2,196.1 L285.4,194.8 L287.5,193.1 L289.7,188.7 L291.8,182.4 L294.0,175.4 L296.1,171.0 L298.3,168.3 L300.4,166.3 L302.6,162.1 L304.7,162.5 L306.9,162.5 L309.1,161.3 L311.2,161.3 L313.4,162.5 L315.5,164.3 L317.7,167.2 L319.8,169.7 L322.0,172.2 L324.1,176.2 L326.3,179.8 L328.4,182.4 L330.6,185.9 L332.8,190.5 L334.9,195.2 L337.1,200.1 L339.2,203.0 L341.4,205.7 L343.5,206.5 L345.7,207.9 L347.8,208.2 L350.0,208.6 L352.1,209.4 L354.3,209.3 L356.4,207.4 L358.6,205.8 L360.8,204.2 L362.9,201.2 L365.1,198.4 L367.2,194.5 L369.4,191.1 L371.5,186.5 L373.7,180.8 L375.8,177.5 L378.0,172.8 L380.1,167.0 L382.3,160.7 L384.4,154.3 L386.6,150.1 L388.8,144.9 L390.9,141.0 L393.1,138.9 L395.2,136.8 L397.4,134.2 L399.5,131.4 L401.7,127.2 L403.8,123.6 L406.0,121.5 L408.1,122.0 L410.3,122.5 L412.4,122.5 L414.6,124.3 L416.8,125.9 L418.9,126.8 L421.1,129.2 L423.2,131.9 L425.4,134.4 L427.5,136.1 L429.7,138.5 L431.8,141.8 L434.0,145.7 L436.1,149.9 L438.3,154.5 L440.4,158.7 L442.6,163.5 L444.8,167.1 L446.9,170.5 L449.1,173.0 L451.2,172.9 L453.4,174.0 L455.5,175.2 L457.7,175.2 L459.8,175.3 L462.0,175.3 L464.1,173.8 L466.3,172.4 L468.5,171.2 L470.6,169.7 L472.8,167.4 L474.9,165.5 L477.1,161.9 L479.2,157.0 L481.4,152.1 L483.5,148.8 L485.7,143.9 L487.8,140.5 L490.0,136.0 L492.1,132.1 L494.3,129.2 L496.5,125.5 L498.6,122.0 L500.8,118.8 L502.9,117.0 L505.1,115.4 L507.2,113.4 L509.4,111.2 L511.5,110.1 L513.7,110.2 L515.8,110.3 L518.0,110.9 L520.1,110.3 L522.3,109.8 L524.5,109.6 L526.6,108.7 L528.8,109.0 L530.9,109.3 L533.1,109.5 L535.2,110.4 L537.4,110.3 L539.5,109.0 L541.7,107.9 L543.8,106.9 L546.0,105.5 L548.1,104.4 L550.3,104.1 L552.5,103.4 L554.6,102.7 L556.8,101.6 L558.9,99.1 L561.1,95.0 L563.2,92.4 L565.4,89.7 L567.5,86.9 L569.7,84.0 L571.8,80.9" fill="none" stroke="#4d7a4d" stroke-width="1.2" stroke-dasharray="1.6,2.2"/>
<path d="M118.0,28.5 L130.0,34.0 L144.5,41.2 L155.6,47.0 L166.0,53.5 L175.0,58.7 L182.2,62.6 L189.0,68.0 L195.8,74.3 L210.1,85.4 L223.1,97.0 L240.0,112.0 L251.7,120.0 L261.0,125.5 L273.5,131.7 L289.1,138.7 L300.0,141.8 L329.9,152.7 L355.8,165.7 L380.0,176.8 L406.0,179.9 L432.0,181.4 L457.7,183.9 L459.8,184.2 L462.0,184.3 L464.1,184.1 L466.3,183.5 L468.5,182.7 L470.6,182.1 L472.8,181.2 L474.9,180.4 L477.1,179.7 L479.2,179.0 L481.4,178.4 L483.5,178.0 L485.7,177.6 L487.8,176.9 L490.0,176.3 L492.1,175.6 L494.3,174.9 L496.5,174.3 L498.6,173.8 L500.8,173.3 L502.9,173.0 L505.1,172.6 L507.2,171.9 L509.4,171.2 L511.5,170.5 L513.7,170.0 L515.8,169.5 L518.0,169.2 L520.1,168.9 L522.3,168.6 L524.5,168.3 L526.6,168.0 L528.8,167.6 L530.9,167.4 L533.1,167.2 L535.2,167.3 L537.4,167.2 L539.5,167.0 L541.7,166.9 L543.8,166.8 L546.0,166.8 L548.1,166.9 L550.3,166.8 L552.5,166.8 L554.6,166.8 L556.8,167.0 L558.9,167.2 L561.1,167.2 L563.2,167.2 L565.4,167.2 L567.5,167.2 L569.7,166.8 L571.8,166.5" fill="none" stroke="#c8284a" stroke-width="1"/>
<path d="M33.3,82.3 L35.5,88.1 L37.7,94.1 L39.8,100.0 L42.0,106.5 L44.1,112.6 L46.3,118.1 L48.4,123.7 L50.6,128.4 L52.7,132.1 L54.9,136.3 L57.0,140.6 L59.2,145.1 L61.3,150.3 L63.5,155.2 L65.7,159.6 L67.8,162.9 L70.0,166.0 L72.1,168.1 L74.3,170.7 L76.4,174.4 L78.6,177.0 L80.7,179.9 L82.9,182.3 L85.0,186.0 L87.2,187.7 L89.3,189.0 L91.5,188.9 L93.7,189.3 L95.8,189.0 L98.0,189.1 L100.1,189.1 L102.3,188.6 L104.4,188.2 L106.6,186.7 L108.7,185.2 L110.9,183.2 L113.0,181.8 L115.2,180.2 L117.3,178.9 L119.5,178.4 L121.7,178.0 L123.8,177.4 L126.0,176.0 L128.1,175.0 L130.3,173.5 L132.4,172.3 L134.6,171.3 L136.7,170.4 L138.9,169.5 L141.0,167.7 L143.2,164.6 L145.4,161.0 L147.5,158.9 L149.7,156.1 L151.8,153.7 L154.0,152.2 L156.1,150.6 L158.3,149.6 L160.4,149.7 L162.6,149.0 L164.7,147.6 L166.9,145.7 L169.0,143.2 L171.2,142.4 L173.4,141.5 L175.5,141.0 L177.7,141.3 L179.8,141.3 L182.0,141.2 L184.1,141.5 L186.3,141.8 L188.4,142.6 L190.6,144.2 L192.7,145.6 L194.9,147.3 L197.0,149.7 L199.2,152.9 L201.4,155.1 L203.5,156.5 L205.7,157.6 L207.8,159.7 L210.0,163.1 L212.1,167.2 L214.3,171.3 L216.4,175.3 L218.6,179.2 L220.7,183.7 L222.9,187.4 L225.0,190.7 L227.2,194.1 L229.4,198.4 L231.5,202.1 L233.7,205.9 L235.8,209.4 L238.0,213.3 L240.1,217.0 L242.3,220.1 L244.4,223.0 L246.6,225.3 L248.7,228.3 L250.9,231.7 L253.1,235.2 L255.2,237.3 L257.4,238.9 L259.5,240.9 L261.7,240.9 L263.8,240.7 L266.0,240.4 L268.1,239.7 L270.3,239.9 L272.4,240.4 L274.6,241.2 L276.7,242.5 L278.9,241.9 L281.1,241.3 L283.2,240.2 L285.4,239.5 L287.5,239.0 L289.7,237.2 L291.8,234.9 L294.0,232.3 L296.1,229.8 L298.3,227.5 L300.4,225.1 L302.6,223.2 L304.7,220.8 L306.9,217.5 L309.1,214.7 L311.2,213.1 L313.4,212.2 L315.5,211.3 L317.7,209.9 L319.8,208.2 L322.0,205.9 L324.1,203.9 L326.3,202.5 L328.4,200.5 L330.6,199.7 L332.8,198.7 L334.9,197.5 L337.1,196.3 L339.2,195.5 L341.4,195.4 L343.5,195.1 L345.7,194.6 L347.8,193.7 L350.0,193.2 L352.1,192.3 L354.3,191.1 L356.4,189.3 L358.6,187.6 L360.8,186.6 L362.9,185.3 L365.1,183.8 L367.2,181.7 L369.4,181.2 L371.5,180.7 L373.7,179.8 L375.8,179.6 L378.0,178.6 L380.1,177.3 L382.3,175.6 L384.4,174.1 L386.6,173.3 L388.8,172.2 L390.9,171.5 L393.1,170.6 L395.2,169.5 L397.4,169.1 L399.5,168.6 L401.7,168.0 L403.8,167.3 L406.0,166.2 L408.1,165.7 L410.3,165.5 L412.4,164.9 L414.6,165.1 L416.8,165.4 L418.9,165.6 L421.1,165.1 L423.2,164.1 L425.4,162.3 L427.5,160.6 L429.7,159.7 L431.8,158.4 L434.0,157.8 L436.1,157.6 L438.3,157.0 L440.4,156.5 L442.6,156.1 L444.8,155.0 L446.9,154.5 L449.1,153.4 L451.2,152.6 L453.4,152.2 L455.5,152.0 L457.7,152.0 L459.8,152.0 L462.0,152.2 L464.1,152.0 L466.3,151.0 L468.5,149.4 L470.6,148.2 L472.8,147.6 L474.9,147.0 L477.1,146.3 L479.2,146.0 L481.4,145.7 L483.5,145.1 L485.7,144.5 L487.8,144.4 L490.0,144.6 L492.1,144.5 L494.3,144.1 L496.5,144.4 L498.6,144.3 L500.8,143.9 L502.9,144.0 L505.1,144.6 L507.2,144.6 L509.4,144.5 L511.5,143.9 L513.7,143.6 L515.8,142.8 L518.0,142.3 L520.1,141.3 L522.3,140.1 L524.5,139.0 L526.6,137.7 L528.8,136.3 L530.9,135.2 L533.1,134.6 L535.2,134.1 L537.4,132.8 L539.5,131.2 L541.7,129.1 L543.8,126.6 L546.0,124.4 L548.1,122.9 L550.3,120.9 L552.5,119.0 L554.6,116.9 L556.8,115.1 L558.9,113.5 L561.1,110.9 L563.2,108.4 L565.4,106.1 L567.5,103.9 L569.7,101.5 L571.8,99.4" fill="none" stroke="#1c1c80" stroke-width="1.1"/>
<path d="M33.3,72.7 L35.5,63.3 L37.7,56.1 L39.8,56.1 L42.0,48.2 L44.1,42.5 L46.3,41.0 L48.4,40.7 L50.6,40.9 L52.7,42.1 L54.9,46.2 L57.0,56.5 L59.2,66.4 L61.3,75.5 L63.5,92.1 L65.7,104.8 L67.8,120.4 L70.0,141.9 L72.1,162.3 L74.3,175.5 L76.4,179.4 L78.6,179.4 L80.7,179.9 L82.9,178.0 L85.0,182.4 L87.2,182.3 L89.3,175.5 L91.5,166.5 L93.7,161.6 L95.8,158.1 L98.0,157.2 L100.1,148.0 L102.3,135.8 L104.4,120.8 L106.6,109.2 L108.7,101.6 L110.9,90.0 L113.0,80.1 L115.2,71.9 L117.3,65.8 L119.5,63.0 L121.7,57.2 L123.8,55.1 L126.0,46.0 L128.1,40.5 L130.3,31.8 L132.4,26.5 L134.6,21.0 L136.7,21.0 L138.9,24.5 L141.0,33.1 L143.2,36.3 L145.4,37.3 L147.5,35.1 L149.7,32.2 L151.8,27.8 L154.0,22.6 L156.1,19.5 L158.3,15.5 L160.4,12.1 L162.6,11.7 L164.7,14.7 L166.9,18.1 L169.0,25.4 L171.2,34.5 L173.4,46.7 L175.5,57.5 L177.7,71.3 L179.8,83.3 L182.0,88.2 L184.1,91.1 L186.3,95.8 L188.4,105.5 L190.6,103.9 L192.7,103.4 L194.9,105.7 L197.0,105.0 L199.2,104.3 L201.4,106.6 L203.5,109.4 L205.7,116.2 L207.8,125.7 L210.0,141.2 L212.1,165.6 L214.3,173.8 L216.4,185.2 L218.6,196.3 L220.7,205.2 L222.9,220.0 L225.0,230.8 L227.2,236.6 L229.4,241.0 L231.5,237.7 L233.7,230.3 L235.8,218.0 L238.0,211.2 L240.1,205.9 L242.3,195.0 L244.4,187.0 L246.6,183.3 L248.7,184.1 L250.9,184.6 L253.1,183.5 L255.2,182.1 L257.4,181.7 L259.5,186.2 L261.7,175.2 L263.8,167.6 L266.0,161.0 L268.1,151.7 L270.3,147.5 L272.4,147.3 L274.6,143.4 L276.7,140.2 L278.9,134.0 L281.1,126.8 L283.2,120.8 L285.4,118.9 L287.5,117.1 L289.7,108.4 L291.8,103.6 L294.0,103.7 L296.1,106.6 L298.3,110.1 L300.4,113.3 L302.6,127.4 L304.7,127.0 L306.9,127.1 L309.1,125.9 L311.2,125.8 L313.4,124.0 L315.5,120.1 L317.7,115.1 L319.8,111.7 L322.0,112.5 L324.1,113.2 L326.3,115.7 L328.4,115.6 L330.6,114.4 L332.8,122.9 L334.9,132.7 L337.1,143.7 L339.2,149.5 L341.4,151.6 L343.5,153.2 L345.7,156.8 L347.8,157.6 L350.0,159.4 L352.1,163.3 L354.3,162.9 L356.4,156.7 L358.6,154.5 L360.8,153.9 L362.9,150.0 L365.1,142.7 L367.2,137.0 L369.4,132.0 L371.5,124.7 L373.7,120.2 L375.8,117.9 L378.0,113.0 L380.1,106.9 L382.3,95.9 L384.4,93.9 L386.6,90.9 L388.8,85.6 L390.9,83.7 L393.1,82.7 L395.2,81.5 L397.4,78.1 L399.5,75.5 L401.7,75.4 L403.8,81.9 L406.0,84.9 L408.1,83.9 L410.3,82.7 L412.4,82.6 L414.6,79.9 L416.8,78.4 L418.9,77.0 L421.1,75.1 L423.2,76.3 L425.4,82.2 L427.5,85.5 L429.7,87.6 L431.8,94.1 L434.0,95.8 L436.1,93.6 L438.3,93.4 L440.4,100.2 L442.6,107.6 L444.8,118.9 L446.9,125.8 L449.1,132.8 L451.2,132.6 L453.4,133.8 L455.5,136.2 L457.7,136.1 L459.8,136.3 L462.0,136.3 L464.1,132.9 L466.3,128.9 L468.5,123.0 L470.6,116.3 L472.8,109.8 L474.9,104.9 L477.1,99.0 L479.2,95.5 L481.4,93.7 L483.5,91.6 L485.7,88.1 L487.8,83.9 L490.0,81.4 L492.1,78.5 L494.3,75.0 L496.5,76.0 L498.6,77.7 L500.8,79.3 L502.9,83.1 L505.1,88.8 L507.2,90.6 L509.4,89.5 L511.5,87.2 L513.7,87.3 L515.8,87.2 L518.0,86.1 L520.1,85.6 L522.3,85.1 L524.5,85.0 L526.6,84.8 L528.8,85.3 L530.9,85.6 L533.1,86.2 L535.2,87.5 L537.4,87.2 L539.5,83.0 L541.7,79.8 L543.8,77.0 L546.0,77.4 L548.1,79.5 L550.3,79.1 L552.5,76.7 L554.6,74.3 L556.8,72.9 L558.9,69.8 L561.1,63.1 L563.2,56.5 L565.4,50.1 L567.5,46.3 L569.7,40.8 L571.8,36.1" fill="none" stroke="#2f6e2f" stroke-width="1.1"/>
<path d="M33.3,214.9 L35.5,236.4 L37.7,255.7 L39.8,268.1 L42.0,288.1 L44.1,304.3 L46.3,312.0 L48.4,321.5 L50.6,327.6 L52.7,329.1 L54.9,331.1 L57.0,333.3 L59.2,335.1 L61.3,338.1 L63.5,334.0 L65.7,331.3 L67.8,325.3 L70.0,312.1 L72.1,298.9 L74.3,291.6 L76.4,290.8 L78.6,288.6 L80.7,285.7 L82.9,284.7 L85.0,273.1 L87.2,262.3 L89.3,261.4 L91.5,261.0 L93.7,259.3 L95.8,260.7 L98.0,260.8 L100.1,262.3 L102.3,265.0 L104.4,266.9 L106.6,267.5 L108.7,265.1 L110.9,265.1 L113.0,265.9 L115.2,264.9 L117.3,259.9 L119.5,250.5 L121.7,240.2 L123.8,225.6 L126.0,218.8 L128.1,206.2 L130.3,201.1 L132.4,194.4 L134.6,189.3 L136.7,178.8 L138.9,168.2 L141.0,150.7 L143.2,142.7 L145.4,136.9 L147.5,141.9 L149.7,148.5 L151.8,157.3 L154.0,170.8 L156.1,181.5 L158.3,194.7 L160.4,207.8 L162.6,214.1 L164.7,218.9 L166.9,220.6 L169.0,219.2 L171.2,223.7 L173.4,224.5 L175.5,227.6 L177.7,229.0 L179.8,229.1 L182.0,235.3 L184.1,245.9 L186.3,256.6 L188.4,266.8 L190.6,285.5 L192.7,302.3 L194.9,311.1 L197.0,325.4 L199.2,342.9 L201.4,351.0 L203.5,352.9 L205.7,353.7 L207.8,354.2 L210.0,355.1 L212.1,349.4 L214.3,355.3 L216.4,358.8 L218.6,356.7 L220.7,359.7 L222.9,353.2 L225.0,347.6 L227.2,345.5 L229.4,344.8 L231.5,345.7 L233.7,347.4 L235.8,351.5 L238.0,354.0 L240.1,352.5 L242.3,350.5 L244.4,350.9 L246.6,352.1 L248.7,352.2 L250.9,352.8 L253.1,348.3 L255.2,341.3 L257.4,331.3 L259.5,318.9 L261.7,318.6 L263.8,309.3 L266.0,304.6 L268.1,303.2 L270.3,296.6 L272.4,285.0 L274.6,280.3 L276.7,277.3 L278.9,278.0 L281.1,277.8 L283.2,275.1 L285.4,274.6 L287.5,273.1 L289.7,273.3 L291.8,265.4 L294.0,250.7 L296.1,238.1 L298.3,228.8 L300.4,221.1 L302.6,197.5 L304.7,198.8 L306.9,198.8 L309.1,197.6 L311.2,197.5 L313.4,202.0 L315.5,209.9 L317.7,221.1 L319.8,230.0 L322.0,234.2 L324.1,241.8 L326.3,246.6 L328.4,252.2 L330.6,260.8 L332.8,261.0 L334.9,260.3 L337.1,258.7 L339.2,258.4 L341.4,261.7 L343.5,261.6 L345.7,260.7 L347.8,260.5 L350.0,259.4 L352.1,256.9 L354.3,257.1 L356.4,259.8 L358.6,258.9 L360.8,256.1 L362.9,254.2 L365.1,256.1 L367.2,254.2 L369.4,252.5 L371.5,250.8 L373.7,243.9 L375.8,239.5 L378.0,235.1 L380.1,229.6 L382.3,228.3 L384.4,217.1 L386.6,211.6 L388.8,206.5 L390.9,200.6 L393.1,197.1 L395.2,194.2 L397.4,192.3 L399.5,189.4 L401.7,180.8 L403.8,166.4 L406.0,159.1 L408.1,161.0 L410.3,163.3 L412.4,163.5 L414.6,169.9 L416.8,174.9 L418.9,178.4 L421.1,185.3 L423.2,189.5 L425.4,188.5 L427.5,188.4 L429.7,191.1 L431.8,191.1 L434.0,197.2 L436.1,208.3 L438.3,218.0 L440.4,219.5 L442.6,221.3 L444.8,216.9 L446.9,216.6 L449.1,214.3 L451.2,214.3 L453.4,215.2 L455.5,215.3 L457.7,215.3 L459.8,215.3 L462.0,215.2 L464.1,215.7 L466.3,217.2 L468.5,220.9 L470.6,224.9 L472.8,227.2 L474.9,228.6 L477.1,227.4 L479.2,221.2 L481.4,212.8 L483.5,208.2 L485.7,201.8 L487.8,199.1 L490.0,192.5 L492.1,187.6 L494.3,185.3 L496.5,176.6 L498.6,167.6 L500.8,159.4 L502.9,151.7 L505.1,142.5 L507.2,136.6 L509.4,133.1 L511.5,133.2 L513.7,133.3 L515.8,133.9 L518.0,136.1 L520.1,135.4 L522.3,134.8 L524.5,134.5 L526.6,133.0 L528.8,133.1 L530.9,133.3 L533.1,133.2 L535.2,133.6 L537.4,133.7 L539.5,135.5 L541.7,136.6 L543.8,137.4 L546.0,134.1 L548.1,129.6 L550.3,129.4 L552.5,130.6 L554.6,131.6 L556.8,130.7 L558.9,129.0 L561.1,127.5 L563.2,129.2 L565.4,130.4 L567.5,128.7 L569.7,128.5 L571.8,127.1" fill="none" stroke="#2f6e2f" stroke-width="1.1"/>
<rect x="33" y="167.4" width="1" height="29.3" fill="#c0103a"/>
<rect x="32" y="167.4" width="2.3" height="29.0" fill="#c0103a"/>
<rect x="35" y="221.7" width="1" height="42.7" fill="#c0103a"/>
<rect x="34" y="221.7" width="2.3" height="36.3" fill="#c0103a"/>
<rect x="37" y="246.2" width="1" height="22.1" fill="#c0103a"/>
<rect x="36" y="252.2" width="2.3" height="11.6" fill="#c0103a"/>
<rect x="39" y="221.9" width="1" height="47.4" fill="#000"/>
<rect x="38" y="241.3" width="2.3" height="10.7" fill="#000"/>
<rect x="41" y="266.9" width="1" height="37.3" fill="#c0103a"/>
<rect x="40" y="266.9" width="2.3" height="25.8" fill="#c0103a"/>
<rect x="44" y="275.5" width="1" height="30.0" fill="#000"/>
<rect x="43" y="289.3" width="2.3" height="3.8" fill="#000"/>
<rect x="46" y="245.6" width="1" height="26.7" fill="#000"/>
<rect x="45" y="251.7" width="3" height="20.6" fill="#000"/>
<rect x="46" y="252.7" width="1" height="18.6" fill="#fff" fill-opacity="0.45"/>
<rect x="48" y="236.5" width="1" height="34.8" fill="#c0103a"/>
<rect x="47" y="253.7" width="2.3" height="10.8" fill="#c0103a"/>
<rect x="50" y="236.2" width="1" height="24.3" fill="#000"/>
<rect x="49" y="239.0" width="2.3" height="8.6" fill="#000"/>
<rect x="52" y="191.4" width="1" height="37.4" fill="#000"/>
<rect x="51" y="192.2" width="3" height="36.6" fill="#000"/>
<rect x="52" y="193.2" width="1" height="34.6" fill="#fff" fill-opacity="0.45"/>
<rect x="54" y="185.8" width="1" height="15.1" fill="#c0103a"/>
<rect x="53" y="188.6" width="2.3" height="8.2" fill="#c0103a"/>
<rect x="57" y="178.6" width="1" height="50.4" fill="#c0103a"/>
<rect x="56" y="191.7" width="2.3" height="36.8" fill="#c0103a"/>
<rect x="59" y="222.4" width="1" height="15.3" fill="#c0103a"/>
<rect x="58" y="227.0" width="2.3" height="2.5" fill="#c0103a"/>
<rect x="61" y="229.5" width="1" height="33.1" fill="#c0103a"/>
<rect x="60" y="243.0" width="2.3" height="1.5" fill="#c0103a"/>
<rect x="63" y="225.1" width="1" height="31.9" fill="#000"/>
<rect x="62" y="226.9" width="2.3" height="18.1" fill="#000"/>
<rect x="65" y="224.1" width="1" height="37.0" fill="#000"/>
<rect x="64" y="224.4" width="2.3" height="15.8" fill="#000"/>
<rect x="67" y="208.5" width="1" height="24.9" fill="#000"/>
<rect x="66" y="218.9" width="2.3" height="5.3" fill="#000"/>
<rect x="69" y="192.6" width="1" height="20.7" fill="#000"/>
<rect x="68" y="195.8" width="2.3" height="17.5" fill="#000"/>
<rect x="72" y="189.5" width="1" height="19.6" fill="#c0103a"/>
<rect x="71" y="197.1" width="2.3" height="4.4" fill="#c0103a"/>
<rect x="74" y="204.4" width="1" height="13.6" fill="#c0103a"/>
<rect x="73" y="204.4" width="2.3" height="10.7" fill="#c0103a"/>
<rect x="76" y="207.5" width="1" height="28.8" fill="#c0103a"/>
<rect x="75" y="216.1" width="2.3" height="13.4" fill="#c0103a"/>
<rect x="78" y="225.2" width="1" height="28.9" fill="#c0103a"/>
<rect x="77" y="236.5" width="2.3" height="9.1" fill="#c0103a"/>
<rect x="80" y="238.7" width="1" height="31.0" fill="#c0103a"/>
<rect x="79" y="241.2" width="2.3" height="10.9" fill="#c0103a"/>
<rect x="82" y="211.4" width="1" height="18.8" fill="#000"/>
<rect x="81" y="211.6" width="2.3" height="18.3" fill="#000"/>
<rect x="85" y="195.9" width="1" height="33.8" fill="#c0103a"/>
<rect x="84" y="203.3" width="2.3" height="21.3" fill="#c0103a"/>
<rect x="87" y="181.0" width="1" height="31.5" fill="#000"/>
<rect x="86" y="182.3" width="3" height="30.3" fill="#000"/>
<rect x="87" y="183.3" width="1" height="28.3" fill="#fff" fill-opacity="0.45"/>
<rect x="89" y="167.5" width="1" height="20.5" fill="#000"/>
<rect x="88" y="173.1" width="2.3" height="9.7" fill="#000"/>
<rect x="91" y="157.7" width="1" height="28.1" fill="#000"/>
<rect x="90" y="157.9" width="2.3" height="17.0" fill="#000"/>
<rect x="93" y="152.6" width="1" height="29.0" fill="#c0103a"/>
<rect x="92" y="154.5" width="2.3" height="17.9" fill="#c0103a"/>
<rect x="95" y="167.1" width="1" height="12.5" fill="#000"/>
<rect x="94" y="170.4" width="2.3" height="1.5" fill="#000"/>
<rect x="97" y="175.8" width="1" height="16.8" fill="#c0103a"/>
<rect x="96" y="175.8" width="2.3" height="12.7" fill="#c0103a"/>
<rect x="100" y="142.2" width="1" height="34.3" fill="#000"/>
<rect x="99" y="148.3" width="3" height="28.1" fill="#000"/>
<rect x="100" y="149.3" width="1" height="26.1" fill="#fff" fill-opacity="0.45"/>
<rect x="102" y="127.1" width="1" height="33.1" fill="#000"/>
<rect x="101" y="129.6" width="2.3" height="17.8" fill="#000"/>
<rect x="104" y="103.9" width="1" height="23.1" fill="#000"/>
<rect x="103" y="107.6" width="2.3" height="16.3" fill="#000"/>
<rect x="106" y="102.1" width="1" height="18.5" fill="#c0103a"/>
<rect x="105" y="112.0" width="2.3" height="2.4" fill="#c0103a"/>
<rect x="108" y="103.8" width="1" height="23.0" fill="#c0103a"/>
<rect x="107" y="117.5" width="2.3" height="4.9" fill="#c0103a"/>
<rect x="110" y="93.6" width="1" height="22.4" fill="#000"/>
<rect x="109" y="98.3" width="2.3" height="17.8" fill="#000"/>
<rect x="113" y="96.0" width="1" height="9.7" fill="#c0103a"/>
<rect x="112" y="98.4" width="2.3" height="1.5" fill="#c0103a"/>
<rect x="115" y="99.6" width="1" height="16.7" fill="#c0103a"/>
<rect x="114" y="102.0" width="2.3" height="11.0" fill="#c0103a"/>
<rect x="117" y="86.6" width="1" height="21.6" fill="#c0103a"/>
<rect x="116" y="98.0" width="2.3" height="5.9" fill="#c0103a"/>
<rect x="119" y="105.0" width="1" height="9.5" fill="#c0103a"/>
<rect x="118" y="106.6" width="2.3" height="4.0" fill="#c0103a"/>
<rect x="121" y="77.5" width="1" height="12.5" fill="#000"/>
<rect x="120" y="77.8" width="2.3" height="10.8" fill="#000"/>
<rect x="123" y="60.3" width="1" height="20.8" fill="#c0103a"/>
<rect x="122" y="71.5" width="2.3" height="7.4" fill="#c0103a"/>
<rect x="125" y="52.1" width="1" height="22.2" fill="#000"/>
<rect x="124" y="52.2" width="3" height="20.2" fill="#000"/>
<rect x="125" y="53.2" width="1" height="18.2" fill="#fff" fill-opacity="0.45"/>
<rect x="128" y="44.4" width="1" height="16.3" fill="#000"/>
<rect x="127" y="46.0" width="2.3" height="10.1" fill="#000"/>
<rect x="130" y="35.9" width="1" height="17.2" fill="#000"/>
<rect x="129" y="43.1" width="2.3" height="5.3" fill="#000"/>
<rect x="132" y="44.2" width="1" height="17.8" fill="#c0103a"/>
<rect x="131" y="52.1" width="2.3" height="2.3" fill="#c0103a"/>
<rect x="134" y="47.7" width="1" height="11.1" fill="#000"/>
<rect x="133" y="50.9" width="2.3" height="3.9" fill="#000"/>
<rect x="136" y="57.2" width="1" height="17.5" fill="#c0103a"/>
<rect x="135" y="57.2" width="2.3" height="13.8" fill="#c0103a"/>
<rect x="138" y="83.4" width="1" height="24.4" fill="#c0103a"/>
<rect x="137" y="83.4" width="2.3" height="21.3" fill="#c0103a"/>
<rect x="141" y="96.6" width="1" height="13.4" fill="#c0103a"/>
<rect x="140" y="106.6" width="2.3" height="1.6" fill="#c0103a"/>
<rect x="143" y="97.8" width="1" height="13.7" fill="#000"/>
<rect x="142" y="103.7" width="2.3" height="5.3" fill="#000"/>
<rect x="145" y="81.4" width="1" height="19.7" fill="#000"/>
<rect x="144" y="81.9" width="2.3" height="17.1" fill="#000"/>
<rect x="147" y="80.5" width="1" height="54.7" fill="#c0103a"/>
<rect x="146" y="82.1" width="2.3" height="53.1" fill="#c0103a"/>
<rect x="149" y="133.2" width="1" height="17.5" fill="#c0103a"/>
<rect x="148" y="144.1" width="2.3" height="1.5" fill="#c0103a"/>
<rect x="151" y="140.1" width="1" height="31.0" fill="#c0103a"/>
<rect x="150" y="141.5" width="2.3" height="21.3" fill="#c0103a"/>
<rect x="153" y="151.5" width="1" height="23.7" fill="#c0103a"/>
<rect x="152" y="157.2" width="2.3" height="17.9" fill="#c0103a"/>
<rect x="156" y="169.1" width="1" height="26.3" fill="#000"/>
<rect x="155" y="170.4" width="2.3" height="11.9" fill="#000"/>
<rect x="158" y="150.3" width="1" height="44.0" fill="#c0103a"/>
<rect x="157" y="159.5" width="2.3" height="27.6" fill="#c0103a"/>
<rect x="160" y="180.0" width="1" height="22.2" fill="#c0103a"/>
<rect x="159" y="184.6" width="2.3" height="9.0" fill="#c0103a"/>
<rect x="162" y="162.2" width="1" height="32.3" fill="#000"/>
<rect x="161" y="165.3" width="3" height="27.8" fill="#000"/>
<rect x="162" y="166.3" width="1" height="25.8" fill="#fff" fill-opacity="0.45"/>
<rect x="164" y="153.4" width="1" height="25.7" fill="#000"/>
<rect x="163" y="155.1" width="2.3" height="18.1" fill="#000"/>
<rect x="166" y="127.9" width="1" height="20.7" fill="#000"/>
<rect x="165" y="131.5" width="2.3" height="17.1" fill="#000"/>
<rect x="169" y="111.8" width="1" height="13.5" fill="#000"/>
<rect x="168" y="115.1" width="2.3" height="10.1" fill="#000"/>
<rect x="171" y="143.1" width="1" height="42.7" fill="#c0103a"/>
<rect x="170" y="143.1" width="2.3" height="40.8" fill="#c0103a"/>
<rect x="173" y="172.3" width="1" height="19.7" fill="#000"/>
<rect x="172" y="178.6" width="2.3" height="2.1" fill="#000"/>
<rect x="175" y="173.4" width="1" height="28.1" fill="#c0103a"/>
<rect x="174" y="184.0" width="2.3" height="12.3" fill="#c0103a"/>
<rect x="177" y="204.4" width="1" height="17.7" fill="#c0103a"/>
<rect x="176" y="204.4" width="2.3" height="3.1" fill="#c0103a"/>
<rect x="179" y="196.6" width="1" height="24.9" fill="#000"/>
<rect x="178" y="196.9" width="3" height="20.1" fill="#000"/>
<rect x="179" y="197.9" width="1" height="18.1" fill="#fff" fill-opacity="0.45"/>
<rect x="181" y="206.4" width="1" height="19.6" fill="#c0103a"/>
<rect x="180" y="206.7" width="2.3" height="7.8" fill="#c0103a"/>
<rect x="184" y="194.0" width="1" height="47.5" fill="#c0103a"/>
<rect x="183" y="208.3" width="2.3" height="33.1" fill="#c0103a"/>
<rect x="186" y="232.6" width="1" height="27.3" fill="#c0103a"/>
<rect x="185" y="244.5" width="2.3" height="10.1" fill="#c0103a"/>
<rect x="188" y="267.3" width="1" height="33.6" fill="#c0103a"/>
<rect x="187" y="267.3" width="2.3" height="14.2" fill="#c0103a"/>
<rect x="190" y="272.1" width="1" height="30.0" fill="#c0103a"/>
<rect x="189" y="286.0" width="2.3" height="11.7" fill="#c0103a"/>
<rect x="192" y="271.3" width="1" height="39.9" fill="#c0103a"/>
<rect x="191" y="284.4" width="2.3" height="16.6" fill="#c0103a"/>
<rect x="194" y="263.3" width="1" height="40.5" fill="#000"/>
<rect x="193" y="270.7" width="3" height="28.3" fill="#000"/>
<rect x="194" y="271.7" width="1" height="26.3" fill="#fff" fill-opacity="0.45"/>
<rect x="197" y="284.2" width="1" height="32.7" fill="#c0103a"/>
<rect x="196" y="284.2" width="2.3" height="19.8" fill="#c0103a"/>
<rect x="199" y="290.7" width="1" height="37.4" fill="#c0103a"/>
<rect x="198" y="306.9" width="2.3" height="20.6" fill="#c0103a"/>
<rect x="201" y="279.4" width="1" height="39.8" fill="#000"/>
<rect x="200" y="287.8" width="3" height="29.3" fill="#000"/>
<rect x="201" y="288.8" width="1" height="27.3" fill="#fff" fill-opacity="0.45"/>
<rect x="203" y="240.5" width="1" height="27.1" fill="#000"/>
<rect x="202" y="240.9" width="3" height="26.7" fill="#000"/>
<rect x="203" y="241.9" width="1" height="24.7" fill="#fff" fill-opacity="0.45"/>
<rect x="205" y="234.4" width="1" height="34.8" fill="#c0103a"/>
<rect x="204" y="244.1" width="2.3" height="12.4" fill="#c0103a"/>
<rect x="207" y="238.1" width="1" height="24.2" fill="#c0103a"/>
<rect x="206" y="248.7" width="2.3" height="11.4" fill="#c0103a"/>
<rect x="209" y="275.9" width="1" height="36.5" fill="#c0103a"/>
<rect x="208" y="275.9" width="2.3" height="28.4" fill="#c0103a"/>
<rect x="212" y="298.9" width="1" height="27.5" fill="#c0103a"/>
<rect x="211" y="300.9" width="2.3" height="15.0" fill="#c0103a"/>
<rect x="214" y="303.8" width="1" height="31.2" fill="#c0103a"/>
<rect x="213" y="323.1" width="2.3" height="3.0" fill="#c0103a"/>
<rect x="216" y="317.7" width="1" height="14.9" fill="#c0103a"/>
<rect x="215" y="325.3" width="2.3" height="6.0" fill="#c0103a"/>
<rect x="218" y="284.8" width="1" height="84.0" fill="#000"/>
<rect x="217" y="291.4" width="3" height="64.7" fill="#000"/>
<rect x="218" y="292.4" width="1" height="62.7" fill="#fff" fill-opacity="0.45"/>
<rect x="220" y="273.7" width="1" height="56.4" fill="#c0103a"/>
<rect x="219" y="282.7" width="2.3" height="45.9" fill="#c0103a"/>
<rect x="222" y="283.0" width="1" height="21.7" fill="#000"/>
<rect x="221" y="288.0" width="2.3" height="16.7" fill="#000"/>
<rect x="225" y="252.5" width="1" height="31.8" fill="#000"/>
<rect x="224" y="259.4" width="2.3" height="10.9" fill="#000"/>
<rect x="227" y="266.7" width="1" height="26.1" fill="#c0103a"/>
<rect x="226" y="277.4" width="2.3" height="3.3" fill="#c0103a"/>
<rect x="229" y="263.6" width="1" height="33.5" fill="#c0103a"/>
<rect x="228" y="283.3" width="2.3" height="9.8" fill="#c0103a"/>
<rect x="231" y="254.5" width="1" height="46.4" fill="#000"/>
<rect x="230" y="256.7" width="3" height="40.1" fill="#000"/>
<rect x="231" y="257.7" width="1" height="38.1" fill="#fff" fill-opacity="0.45"/>
<rect x="233" y="232.8" width="1" height="28.5" fill="#000"/>
<rect x="232" y="238.3" width="2.3" height="14.5" fill="#000"/>
<rect x="235" y="211.7" width="1" height="25.7" fill="#000"/>
<rect x="234" y="213.2" width="3" height="24.2" fill="#000"/>
<rect x="235" y="214.2" width="1" height="22.2" fill="#fff" fill-opacity="0.45"/>
<rect x="237" y="202.4" width="1" height="25.0" fill="#c0103a"/>
<rect x="236" y="224.7" width="2.3" height="1.9" fill="#c0103a"/>
<rect x="240" y="212.9" width="1" height="22.8" fill="#c0103a"/>
<rect x="239" y="223.1" width="2.3" height="11.1" fill="#c0103a"/>
<rect x="242" y="194.7" width="1" height="39.2" fill="#000"/>
<rect x="241" y="196.4" width="3" height="37.4" fill="#000"/>
<rect x="242" y="197.4" width="1" height="35.4" fill="#fff" fill-opacity="0.45"/>
<rect x="244" y="199.3" width="1" height="12.2" fill="#c0103a"/>
<rect x="243" y="204.1" width="2.3" height="4.0" fill="#c0103a"/>
<rect x="246" y="192.1" width="1" height="27.3" fill="#c0103a"/>
<rect x="245" y="196.1" width="2.3" height="18.3" fill="#c0103a"/>
<rect x="248" y="199.0" width="1" height="55.2" fill="#c0103a"/>
<rect x="247" y="215.7" width="2.3" height="38.1" fill="#c0103a"/>
<rect x="250" y="257.6" width="1" height="21.9" fill="#c0103a"/>
<rect x="249" y="264.8" width="2.3" height="5.6" fill="#c0103a"/>
<rect x="253" y="238.7" width="1" height="36.3" fill="#000"/>
<rect x="252" y="249.3" width="2.3" height="1.5" fill="#000"/>
<rect x="255" y="231.5" width="1" height="20.2" fill="#000"/>
<rect x="254" y="234.4" width="2.3" height="10.7" fill="#000"/>
<rect x="257" y="213.1" width="1" height="29.7" fill="#000"/>
<rect x="256" y="225.8" width="2.3" height="4.5" fill="#000"/>
<rect x="259" y="229.8" width="1" height="30.4" fill="#c0103a"/>
<rect x="258" y="232.7" width="2.3" height="25.7" fill="#c0103a"/>
<rect x="261" y="173.7" width="1" height="39.2" fill="#000"/>
<rect x="260" y="174.5" width="3" height="38.4" fill="#000"/>
<rect x="261" y="175.5" width="1" height="36.4" fill="#fff" fill-opacity="0.45"/>
<rect x="263" y="156.9" width="1" height="22.2" fill="#000"/>
<rect x="262" y="160.2" width="2.3" height="11.4" fill="#000"/>
<rect x="265" y="154.0" width="1" height="20.5" fill="#c0103a"/>
<rect x="264" y="166.0" width="2.3" height="8.1" fill="#c0103a"/>
<rect x="268" y="146.3" width="1" height="29.5" fill="#000"/>
<rect x="267" y="155.0" width="2.3" height="5.7" fill="#000"/>
<rect x="270" y="164.0" width="1" height="11.3" fill="#c0103a"/>
<rect x="269" y="166.5" width="2.3" height="7.1" fill="#c0103a"/>
<rect x="272" y="175.3" width="1" height="18.9" fill="#c0103a"/>
<rect x="271" y="178.4" width="2.3" height="10.8" fill="#c0103a"/>
<rect x="274" y="165.3" width="1" height="17.3" fill="#000"/>
<rect x="273" y="170.6" width="2.3" height="1.5" fill="#000"/>
<rect x="276" y="172.3" width="1" height="11.3" fill="#c0103a"/>
<rect x="275" y="174.6" width="2.3" height="2.5" fill="#c0103a"/>
<rect x="278" y="155.2" width="1" height="19.1" fill="#000"/>
<rect x="277" y="156.1" width="2.3" height="14.9" fill="#000"/>
<rect x="281" y="144.4" width="1" height="13.6" fill="#000"/>
<rect x="280" y="146.9" width="2.3" height="10.4" fill="#000"/>
<rect x="283" y="144.3" width="1" height="5.1" fill="#c0103a"/>
<rect x="282" y="147.3" width="2.3" height="1.5" fill="#c0103a"/>
<rect x="285" y="152.7" width="1" height="22.1" fill="#c0103a"/>
<rect x="284" y="155.4" width="2.3" height="16.2" fill="#c0103a"/>
<rect x="287" y="166.5" width="1" height="15.4" fill="#c0103a"/>
<rect x="286" y="171.4" width="2.3" height="2.6" fill="#c0103a"/>
<rect x="289" y="126.6" width="1" height="54.9" fill="#000"/>
<rect x="288" y="126.6" width="3" height="47.6" fill="#000"/>
<rect x="289" y="127.6" width="1" height="45.6" fill="#fff" fill-opacity="0.45"/>
<rect x="291" y="118.9" width="1" height="18.9" fill="#c0103a"/>
<rect x="290" y="123.9" width="2.3" height="4.0" fill="#c0103a"/>
<rect x="293" y="126.5" width="1" height="20.7" fill="#c0103a"/>
<rect x="292" y="129.8" width="2.3" height="12.1" fill="#c0103a"/>
<rect x="296" y="137.2" width="1" height="26.3" fill="#c0103a"/>
<rect x="295" y="137.4" width="2.3" height="20.5" fill="#c0103a"/>
<rect x="298" y="156.9" width="1" height="32.6" fill="#c0103a"/>
<rect x="297" y="158.8" width="2.3" height="21.7" fill="#c0103a"/>
<rect x="300" y="174.0" width="1" height="13.8" fill="#c0103a"/>
<rect x="299" y="183.4" width="2.3" height="1.5" fill="#c0103a"/>
<rect x="302" y="167.5" width="1" height="15.1" fill="#000"/>
<rect x="301" y="171.7" width="2.3" height="6.2" fill="#000"/>
<rect x="304" y="166.4" width="1" height="17.3" fill="#c0103a"/>
<rect x="303" y="175.4" width="2.3" height="7.8" fill="#c0103a"/>
<rect x="306" y="161.1" width="1" height="21.7" fill="#000"/>
<rect x="305" y="161.1" width="3" height="20.1" fill="#000"/>
<rect x="306" y="162.1" width="1" height="18.1" fill="#fff" fill-opacity="0.45"/>
<rect x="309" y="118.7" width="1" height="41.5" fill="#000"/>
<rect x="308" y="130.7" width="2.3" height="19.1" fill="#000"/>
<rect x="311" y="136.7" width="1" height="34.2" fill="#c0103a"/>
<rect x="310" y="151.4" width="2.3" height="7.8" fill="#c0103a"/>
<rect x="313" y="173.7" width="1" height="31.3" fill="#c0103a"/>
<rect x="312" y="173.7" width="2.3" height="24.8" fill="#c0103a"/>
<rect x="315" y="200.5" width="1" height="25.4" fill="#c0103a"/>
<rect x="314" y="200.5" width="2.3" height="15.5" fill="#c0103a"/>
<rect x="317" y="214.9" width="1" height="22.3" fill="#c0103a"/>
<rect x="316" y="215.4" width="2.3" height="14.6" fill="#c0103a"/>
<rect x="319" y="221.6" width="1" height="17.4" fill="#000"/>
<rect x="318" y="228.4" width="2.3" height="4.5" fill="#000"/>
<rect x="321" y="200.9" width="1" height="20.3" fill="#000"/>
<rect x="320" y="205.4" width="2.3" height="15.7" fill="#000"/>
<rect x="324" y="215.6" width="1" height="36.2" fill="#c0103a"/>
<rect x="323" y="215.6" width="2.3" height="12.5" fill="#c0103a"/>
<rect x="326" y="218.6" width="1" height="19.9" fill="#000"/>
<rect x="325" y="219.0" width="2.3" height="12.1" fill="#000"/>
<rect x="328" y="218.2" width="1" height="13.6" fill="#c0103a"/>
<rect x="327" y="219.6" width="2.3" height="5.7" fill="#c0103a"/>
<rect x="330" y="217.6" width="1" height="27.5" fill="#c0103a"/>
<rect x="329" y="225.2" width="2.3" height="18.9" fill="#c0103a"/>
<rect x="332" y="213.6" width="1" height="21.4" fill="#000"/>
<rect x="331" y="217.2" width="2.3" height="17.8" fill="#000"/>
<rect x="334" y="221.0" width="1" height="16.1" fill="#c0103a"/>
<rect x="333" y="221.1" width="2.3" height="4.2" fill="#c0103a"/>
<rect x="337" y="205.4" width="1" height="34.1" fill="#c0103a"/>
<rect x="336" y="215.6" width="2.3" height="11.8" fill="#c0103a"/>
<rect x="339" y="207.6" width="1" height="23.2" fill="#000"/>
<rect x="338" y="215.7" width="2.3" height="5.1" fill="#000"/>
<rect x="341" y="221.0" width="1" height="15.2" fill="#c0103a"/>
<rect x="340" y="221.0" width="2.3" height="12.9" fill="#c0103a"/>
<rect x="343" y="194.4" width="1" height="39.0" fill="#000"/>
<rect x="342" y="198.8" width="3" height="28.9" fill="#000"/>
<rect x="343" y="199.8" width="1" height="26.9" fill="#fff" fill-opacity="0.45"/>
<rect x="345" y="176.8" width="1" height="23.9" fill="#c0103a"/>
<rect x="344" y="192.5" width="2.3" height="7.5" fill="#c0103a"/>
<rect x="347" y="188.9" width="1" height="17.0" fill="#000"/>
<rect x="346" y="189.2" width="2.3" height="12.2" fill="#000"/>
<rect x="349" y="169.1" width="1" height="16.4" fill="#000"/>
<rect x="348" y="169.3" width="2.3" height="14.7" fill="#000"/>
<rect x="352" y="158.3" width="1" height="23.6" fill="#000"/>
<rect x="351" y="164.0" width="2.3" height="2.2" fill="#000"/>
<rect x="354" y="155.9" width="1" height="22.0" fill="#000"/>
<rect x="353" y="157.8" width="2.3" height="15.0" fill="#000"/>
<rect x="356" y="151.5" width="1" height="12.0" fill="#c0103a"/>
<rect x="355" y="157.7" width="2.3" height="3.2" fill="#c0103a"/>
<rect x="358" y="152.0" width="1" height="34.3" fill="#c0103a"/>
<rect x="357" y="156.6" width="2.3" height="28.8" fill="#c0103a"/>
<rect x="360" y="187.7" width="1" height="14.9" fill="#c0103a"/>
<rect x="359" y="192.1" width="2.3" height="5.2" fill="#c0103a"/>
<rect x="362" y="168.0" width="1" height="29.7" fill="#000"/>
<rect x="361" y="168.1" width="3" height="25.1" fill="#000"/>
<rect x="362" y="169.1" width="1" height="23.1" fill="#fff" fill-opacity="0.45"/>
<rect x="365" y="142.3" width="1" height="26.3" fill="#000"/>
<rect x="364" y="149.8" width="2.3" height="16.2" fill="#000"/>
<rect x="367" y="148.2" width="1" height="13.2" fill="#c0103a"/>
<rect x="366" y="150.9" width="2.3" height="5.9" fill="#c0103a"/>
<rect x="369" y="149.9" width="1" height="27.5" fill="#c0103a"/>
<rect x="368" y="151.2" width="2.3" height="13.0" fill="#c0103a"/>
<rect x="371" y="133.7" width="1" height="18.6" fill="#000"/>
<rect x="370" y="134.1" width="2.3" height="9.4" fill="#000"/>
<rect x="373" y="121.3" width="1" height="17.4" fill="#000"/>
<rect x="372" y="130.3" width="2.3" height="6.4" fill="#000"/>
<rect x="375" y="132.8" width="1" height="18.6" fill="#c0103a"/>
<rect x="374" y="138.4" width="2.3" height="12.1" fill="#c0103a"/>
<rect x="377" y="127.7" width="1" height="21.8" fill="#000"/>
<rect x="376" y="128.0" width="3" height="21.4" fill="#000"/>
<rect x="377" y="129.0" width="1" height="19.4" fill="#fff" fill-opacity="0.45"/>
<rect x="380" y="100.6" width="1" height="42.5" fill="#000"/>
<rect x="379" y="111.8" width="2.3" height="18.7" fill="#000"/>
<rect x="382" y="83.3" width="1" height="20.0" fill="#000"/>
<rect x="381" y="89.1" width="2.3" height="7.9" fill="#000"/>
<rect x="384" y="88.1" width="1" height="22.1" fill="#c0103a"/>
<rect x="383" y="105.2" width="2.3" height="1.5" fill="#c0103a"/>
<rect x="386" y="109.7" width="1" height="11.8" fill="#c0103a"/>
<rect x="385" y="111.7" width="2.3" height="3.2" fill="#c0103a"/>
<rect x="388" y="90.3" width="1" height="33.2" fill="#000"/>
<rect x="387" y="95.0" width="3" height="22.1" fill="#000"/>
<rect x="388" y="96.0" width="1" height="20.1" fill="#fff" fill-opacity="0.45"/>
<rect x="390" y="97.6" width="1" height="17.0" fill="#c0103a"/>
<rect x="389" y="98.9" width="2.3" height="13.4" fill="#c0103a"/>
<rect x="393" y="97.9" width="1" height="32.7" fill="#c0103a"/>
<rect x="392" y="102.4" width="2.3" height="23.7" fill="#c0103a"/>
<rect x="395" y="121.2" width="1" height="12.8" fill="#000"/>
<rect x="394" y="122.7" width="2.3" height="8.2" fill="#000"/>
<rect x="397" y="104.4" width="1" height="17.5" fill="#000"/>
<rect x="396" y="105.0" width="2.3" height="15.4" fill="#000"/>
<rect x="399" y="96.6" width="1" height="24.4" fill="#c0103a"/>
<rect x="398" y="105.4" width="2.3" height="3.5" fill="#c0103a"/>
<rect x="401" y="100.9" width="1" height="16.6" fill="#000"/>
<rect x="400" y="101.1" width="2.3" height="10.6" fill="#000"/>
<rect x="403" y="105.3" width="1" height="17.8" fill="#c0103a"/>
<rect x="402" y="113.5" width="2.3" height="9.2" fill="#c0103a"/>
<rect x="405" y="126.1" width="1" height="12.8" fill="#c0103a"/>
<rect x="404" y="127.0" width="2.3" height="1.5" fill="#c0103a"/>
<rect x="408" y="137.2" width="1" height="22.1" fill="#c0103a"/>
<rect x="407" y="137.2" width="2.3" height="21.3" fill="#c0103a"/>
<rect x="410" y="150.7" width="1" height="15.7" fill="#c0103a"/>
<rect x="409" y="156.7" width="2.3" height="4.2" fill="#c0103a"/>
<rect x="412" y="146.5" width="1" height="23.0" fill="#000"/>
<rect x="411" y="150.2" width="2.3" height="2.4" fill="#000"/>
<rect x="414" y="165.9" width="1" height="13.8" fill="#c0103a"/>
<rect x="413" y="167.9" width="2.3" height="1.5" fill="#c0103a"/>
<rect x="416" y="150.5" width="1" height="17.3" fill="#000"/>
<rect x="415" y="160.4" width="2.3" height="3.9" fill="#000"/>
<rect x="418" y="158.4" width="1" height="11.1" fill="#c0103a"/>
<rect x="417" y="166.4" width="2.3" height="2.8" fill="#c0103a"/>
<rect x="421" y="168.5" width="1" height="12.8" fill="#c0103a"/>
<rect x="420" y="171.8" width="2.3" height="4.7" fill="#c0103a"/>
<rect x="423" y="161.0" width="1" height="24.6" fill="#000"/>
<rect x="422" y="164.7" width="2.3" height="16.8" fill="#000"/>
<rect x="425" y="138.8" width="1" height="20.5" fill="#000"/>
<rect x="424" y="139.8" width="2.3" height="18.4" fill="#000"/>
<rect x="427" y="127.2" width="1" height="13.0" fill="#000"/>
<rect x="426" y="136.2" width="2.3" height="2.6" fill="#000"/>
<rect x="429" y="138.1" width="1" height="27.0" fill="#c0103a"/>
<rect x="428" y="138.8" width="2.3" height="24.0" fill="#c0103a"/>
<rect x="431" y="157.3" width="1" height="12.0" fill="#000"/>
<rect x="430" y="160.6" width="2.3" height="1.7" fill="#000"/>
<rect x="433" y="150.6" width="1" height="42.8" fill="#c0103a"/>
<rect x="432" y="158.0" width="2.3" height="31.6" fill="#c0103a"/>
<rect x="436" y="183.3" width="1" height="35.1" fill="#c0103a"/>
<rect x="435" y="191.7" width="2.3" height="20.5" fill="#c0103a"/>
<rect x="438" y="194.8" width="1" height="38.8" fill="#c0103a"/>
<rect x="437" y="214.6" width="2.3" height="8.3" fill="#c0103a"/>
<rect x="440" y="182.0" width="1" height="25.3" fill="#000"/>
<rect x="439" y="189.2" width="2.3" height="10.1" fill="#000"/>
<rect x="442" y="199.1" width="1" height="22.5" fill="#c0103a"/>
<rect x="441" y="200.0" width="2.3" height="6.1" fill="#c0103a"/>
<rect x="444" y="171.3" width="1" height="39.9" fill="#000"/>
<rect x="443" y="173.0" width="3" height="32.3" fill="#000"/>
<rect x="444" y="174.0" width="1" height="30.3" fill="#fff" fill-opacity="0.45"/>
<rect x="446" y="173.5" width="1" height="22.8" fill="#c0103a"/>
<rect x="445" y="173.6" width="2.3" height="16.6" fill="#c0103a"/>
<rect x="449" y="174.4" width="1" height="15.7" fill="#000"/>
<rect x="448" y="176.4" width="2.3" height="13.5" fill="#000"/>
<rect x="451" y="153.9" width="1" height="14.8" fill="#000"/>
<rect x="450" y="156.3" width="2.3" height="10.5" fill="#000"/>
<rect x="453" y="142.2" width="1" height="40.3" fill="#c0103a"/>
<rect x="452" y="156.7" width="2.3" height="25.5" fill="#c0103a"/>
<rect x="455" y="154.5" width="1" height="34.8" fill="#000"/>
<rect x="454" y="173.4" width="2.3" height="4.1" fill="#000"/>
<rect x="457" y="168.1" width="1" height="25.1" fill="#000"/>
<rect x="456" y="168.8" width="2.3" height="12.5" fill="#000"/>
<rect x="459" y="156.0" width="1" height="13.0" fill="#000"/>
<rect x="458" y="164.1" width="2.3" height="2.1" fill="#000"/>
<rect x="461" y="165.6" width="1" height="10.9" fill="#c0103a"/>
<rect x="460" y="167.5" width="2.3" height="1.5" fill="#c0103a"/>
<rect x="464" y="145.6" width="1" height="12.0" fill="#000"/>
<rect x="463" y="146.7" width="2.3" height="11.0" fill="#000"/>
<rect x="466" y="135.1" width="1" height="9.9" fill="#000"/>
<rect x="465" y="137.8" width="2.3" height="1.6" fill="#000"/>
<rect x="468" y="115.0" width="1" height="20.8" fill="#000"/>
<rect x="467" y="115.5" width="3" height="20.2" fill="#000"/>
<rect x="468" y="116.5" width="1" height="18.2" fill="#fff" fill-opacity="0.45"/>
<rect x="470" y="108.6" width="1" height="10.9" fill="#000"/>
<rect x="469" y="109.8" width="2.3" height="8.4" fill="#000"/>
<rect x="472" y="106.5" width="1" height="17.5" fill="#c0103a"/>
<rect x="471" y="108.5" width="2.3" height="10.4" fill="#c0103a"/>
<rect x="474" y="119.2" width="1" height="10.3" fill="#c0103a"/>
<rect x="473" y="121.1" width="2.3" height="1.6" fill="#c0103a"/>
<rect x="477" y="116.3" width="1" height="14.3" fill="#000"/>
<rect x="476" y="117.2" width="2.3" height="9.1" fill="#000"/>
<rect x="479" y="115.5" width="1" height="14.0" fill="#000"/>
<rect x="478" y="115.6" width="2.3" height="9.1" fill="#000"/>
<rect x="481" y="109.9" width="1" height="8.2" fill="#c0103a"/>
<rect x="480" y="115.2" width="2.3" height="1.5" fill="#c0103a"/>
<rect x="483" y="106.1" width="1" height="17.9" fill="#c0103a"/>
<rect x="482" y="110.8" width="2.3" height="11.3" fill="#c0103a"/>
<rect x="485" y="100.1" width="1" height="19.2" fill="#000"/>
<rect x="484" y="101.6" width="2.3" height="17.4" fill="#000"/>
<rect x="487" y="95.3" width="1" height="18.8" fill="#c0103a"/>
<rect x="486" y="103.9" width="2.3" height="1.5" fill="#c0103a"/>
<rect x="489" y="99.6" width="1" height="10.7" fill="#000"/>
<rect x="488" y="99.7" width="2.3" height="5.3" fill="#000"/>
<rect x="492" y="92.9" width="1" height="10.9" fill="#000"/>
<rect x="491" y="94.9" width="2.3" height="3.5" fill="#000"/>
<rect x="494" y="95.5" width="1" height="10.5" fill="#c0103a"/>
<rect x="493" y="98.5" width="2.3" height="5.7" fill="#c0103a"/>
<rect x="496" y="100.7" width="1" height="12.8" fill="#c0103a"/>
<rect x="495" y="107.5" width="2.3" height="1.5" fill="#c0103a"/>
<rect x="498" y="104.7" width="1" height="9.1" fill="#000"/>
<rect x="497" y="106.4" width="2.3" height="1.5" fill="#000"/>
<rect x="500" y="103.1" width="1" height="9.3" fill="#000"/>
<rect x="499" y="105.1" width="2.3" height="1.9" fill="#000"/>
<rect x="502" y="109.1" width="1" height="20.9" fill="#c0103a"/>
<rect x="501" y="109.1" width="2.3" height="20.8" fill="#c0103a"/>
<rect x="505" y="123.0" width="1" height="15.4" fill="#c0103a"/>
<rect x="504" y="123.7" width="2.3" height="12.1" fill="#c0103a"/>
<rect x="507" y="104.6" width="1" height="23.8" fill="#000"/>
<rect x="506" y="105.7" width="3" height="22.7" fill="#000"/>
<rect x="507" y="106.7" width="1" height="20.7" fill="#fff" fill-opacity="0.45"/>
<rect x="509" y="92.7" width="1" height="16.1" fill="#000"/>
<rect x="508" y="92.9" width="2.3" height="14.9" fill="#000"/>
<rect x="511" y="86.4" width="1" height="8.5" fill="#c0103a"/>
<rect x="510" y="93.5" width="2.3" height="1.5" fill="#c0103a"/>
<rect x="513" y="94.9" width="1" height="28.0" fill="#c0103a"/>
<rect x="512" y="94.9" width="2.3" height="16.7" fill="#c0103a"/>
<rect x="515" y="100.9" width="1" height="22.4" fill="#c0103a"/>
<rect x="514" y="110.6" width="2.3" height="11.9" fill="#c0103a"/>
<rect x="517" y="125.7" width="1" height="13.1" fill="#c0103a"/>
<rect x="516" y="125.7" width="2.3" height="8.2" fill="#c0103a"/>
<rect x="520" y="101.3" width="1" height="23.5" fill="#000"/>
<rect x="519" y="105.4" width="3" height="19.5" fill="#000"/>
<rect x="520" y="106.4" width="1" height="17.5" fill="#fff" fill-opacity="0.45"/>
<rect x="522" y="103.1" width="1" height="7.0" fill="#000"/>
<rect x="521" y="104.7" width="2.3" height="1.5" fill="#000"/>
<rect x="524" y="107.6" width="1" height="5.2" fill="#c0103a"/>
<rect x="523" y="109.9" width="2.3" height="1.9" fill="#c0103a"/>
<rect x="526" y="98.6" width="1" height="20.9" fill="#000"/>
<rect x="525" y="102.6" width="2.3" height="2.3" fill="#000"/>
<rect x="528" y="106.7" width="1" height="8.9" fill="#c0103a"/>
<rect x="527" y="106.9" width="2.3" height="1.5" fill="#c0103a"/>
<rect x="530" y="102.6" width="1" height="16.8" fill="#c0103a"/>
<rect x="529" y="104.5" width="2.3" height="5.4" fill="#c0103a"/>
<rect x="533" y="103.5" width="1" height="11.7" fill="#000"/>
<rect x="532" y="105.4" width="2.3" height="3.6" fill="#000"/>
<rect x="535" y="105.6" width="1" height="9.7" fill="#c0103a"/>
<rect x="534" y="108.5" width="2.3" height="6.8" fill="#c0103a"/>
<rect x="537" y="94.7" width="1" height="19.2" fill="#000"/>
<rect x="536" y="96.9" width="2.3" height="13.5" fill="#000"/>
<rect x="539" y="80.8" width="1" height="18.3" fill="#000"/>
<rect x="538" y="82.3" width="2.3" height="15.0" fill="#000"/>
<rect x="541" y="76.8" width="1" height="12.1" fill="#c0103a"/>
<rect x="540" y="80.1" width="2.3" height="4.5" fill="#c0103a"/>
<rect x="543" y="78.2" width="1" height="10.6" fill="#000"/>
<rect x="542" y="84.3" width="2.3" height="1.5" fill="#000"/>
<rect x="545" y="86.9" width="1" height="16.1" fill="#c0103a"/>
<rect x="544" y="90.2" width="2.3" height="11.7" fill="#c0103a"/>
<rect x="548" y="106.6" width="1" height="10.9" fill="#c0103a"/>
<rect x="547" y="106.6" width="2.3" height="6.7" fill="#c0103a"/>
<rect x="550" y="94.3" width="1" height="13.5" fill="#000"/>
<rect x="549" y="98.1" width="2.3" height="1.7" fill="#000"/>
<rect x="552" y="76.8" width="1" height="21.1" fill="#000"/>
<rect x="551" y="79.6" width="2.3" height="18.3" fill="#000"/>
<rect x="554" y="70.1" width="1" height="14.4" fill="#000"/>
<rect x="553" y="71.7" width="2.3" height="7.8" fill="#000"/>
<rect x="556" y="83.3" width="1" height="10.9" fill="#c0103a"/>
<rect x="555" y="85.0" width="2.3" height="4.1" fill="#c0103a"/>
<rect x="558" y="69.6" width="1" height="22.5" fill="#000"/>
<rect x="557" y="73.8" width="2.3" height="14.1" fill="#000"/>
<rect x="561" y="48.4" width="1" height="18.1" fill="#000"/>
<rect x="560" y="51.4" width="2.3" height="15.1" fill="#000"/>
<rect x="563" y="45.3" width="1" height="11.8" fill="#c0103a"/>
<rect x="562" y="51.2" width="2.3" height="3.3" fill="#c0103a"/>
<rect x="565" y="49.2" width="1" height="9.2" fill="#000"/>
<rect x="564" y="50.9" width="2.3" height="4.5" fill="#000"/>
<rect x="567" y="45.3" width="1" height="12.8" fill="#c0103a"/>
<rect x="566" y="50.3" width="2.3" height="6.5" fill="#c0103a"/>
<rect x="569" y="45.7" width="1" height="13.4" fill="#000"/>
<rect x="568" y="47.2" width="2.3" height="9.2" fill="#000"/>
<rect x="571" y="36.8" width="1" height="11.2" fill="#000"/>
<rect x="570" y="43.2" width="2.3" height="2.2" fill="#000"/>
</g>
<rect x="32.5" y="29.0" width="133.5" height="11" fill="#fff"/>
<rect x="32.5" y="40.0" width="83.0" height="11" fill="#fff"/>
<rect x="32.5" y="51.0" width="88.2" height="11" fill="#fff"/>
<rect x="32.5" y="61.5" width="182.3" height="11" fill="#fff"/>
<rect x="32.5" y="72.0" width="109.5" height="11" fill="#fff"/>
<text x="47.4" y="38.5" font-family="Liberation Sans, sans-serif" font-size="10" fill="#000" stroke="#000" stroke-width="0.25" textLength="117.1" lengthAdjust="spacing">$SPX (Daily) 4298.86</text>
<text x="45.7" y="49.5" font-family="Liberation Sans, sans-serif" font-size="10" fill="#1c1c80" stroke="#1c1c80" stroke-width="0.25" textLength="68.3" lengthAdjust="spacing">MA(50) 4152.10</text>
<text x="45.7" y="60.5" font-family="Liberation Sans, sans-serif" font-size="10" fill="#a01030" stroke="#a01030" stroke-width="0.25" textLength="73.5" lengthAdjust="spacing">MA(200) 3976.77</text>
<text x="45.6" y="71" font-family="Liberation Sans, sans-serif" font-size="10" fill="#1f5a1f" stroke="#1f5a1f" stroke-width="0.25" textLength="167.7" lengthAdjust="spacing">BB(20,2.0) 4078.88 - 4201.80 - 4324.71</text>
<text x="45.6" y="81.5" font-family="Liberation Sans, sans-serif" font-size="10" fill="#333" stroke="#333" stroke-width="0.25" textLength="94.9" lengthAdjust="spacing">Volume 2,116,680,704</text>
<g fill="#000"><rect x="35.3" y="30.8" width="2.4" height="7" rx="0.8"/><line x1="36.5" y1="29.5" x2="36.5" y2="39" stroke="#000"/><rect x="38.6" y="32.5" width="2" height="3.5"/><line x1="39.6" y1="31" x2="39.6" y2="38" stroke="#000" stroke-width="0.8"/><rect x="41.3" y="30.8" width="2.8" height="7.2" rx="1"/><line x1="42.7" y1="29.5" x2="42.7" y2="39" stroke="#000"/></g>
<rect x="35" y="45.5" width="8" height="2" fill="#1c1c80"/>
<rect x="35" y="56.5" width="8" height="2" fill="#c8284a"/>
<rect x="35" y="67" width="8" height="2" fill="#2f4f2f"/>
<g fill="#555"><rect x="35.2" y="78.5" width="2" height="4"/><rect x="38.3" y="74.5" width="2.3" height="8"/><rect x="41.2" y="76.5" width="2.6" height="6"/></g>
<rect x="32.5" y="28.5" width="544.0" height="347.0" fill="none" stroke="#a8a8a8" stroke-width="1"/>
<text x="580.5" y="368.3" font-family="Liberation Sans, sans-serif" font-size="10.3" fill="#000" textLength="22.6" lengthAdjust="spacing">3500</text>
<text x="580.5" y="346.2" font-family="Liberation Sans, sans-serif" font-size="10.3" fill="#000" textLength="22.6" lengthAdjust="spacing">3550</text>
<text x="580.5" y="324.5" font-family="Liberation Sans, sans-serif" font-size="10.3" fill="#000" textLength="22.6" lengthAdjust="spacing">3600</text>
<text x="580.5" y="303.0" font-family="Liberation Sans, sans-serif" font-size="10.3" fill="#000" textLength="22.6" lengthAdjust="spacing">3650</text>
<text x="580.5" y="281.9" font-family="Liberation Sans, sans-serif" font-size="10.3" fill="#000" textLength="22.6" lengthAdjust="spacing">3700</text>
<text x="580.5" y="261.0" font-family="Liberation Sans, sans-serif" font-size="10.3" fill="#000" textLength="22.6" lengthAdjust="spacing">3750</text>
<text x="580.5" y="240.4" font-family="Liberation Sans, sans-serif" font-size="10.3" fill="#000" textLength="22.6" lengthAdjust="spacing">3800</text>
<text x="580.5" y="220.1" font-family="Liberation Sans, sans-serif" font-size="10.3" fill="#000" textLength="22.6" lengthAdjust="spacing">3850</text>
<text x="580.5" y="200.0" font-family="Liberation Sans, sans-serif" font-size="10.3" fill="#000" textLength="22.6" lengthAdjust="spacing">3900</text>
<text x="580.5" y="180.2" font-family="Liberation Sans, sans-serif" font-size="10.3" fill="#000" textLength="22.6" lengthAdjust="spacing">3950</text>
<text x="580.5" y="160.7" font-family="Liberation Sans, sans-serif" font-size="10.3" fill="#000" textLength="22.6" lengthAdjust="spacing">4000</text>
<text x="580.5" y="141.3" font-family="Liberation Sans, sans-serif" font-size="10.3" fill="#000" textLength="22.6" lengthAdjust="spacing">4050</text>
<text x="580.5" y="122.3" font-family="Liberation Sans, sans-serif" font-size="10.3" fill="#000" textLength="22.6" lengthAdjust="spacing">4100</text>
<text x="580.5" y="103.4" font-family="Liberation Sans, sans-serif" font-size="10.3" fill="#000" textLength="22.6" lengthAdjust="spacing">4150</text>
<text x="580.5" y="84.8" font-family="Liberation Sans, sans-serif" font-size="10.3" fill="#000" textLength="22.6" lengthAdjust="spacing">4200</text>
<text x="580.5" y="66.4" font-family="Liberation Sans, sans-serif" font-size="10.3" fill="#000" textLength="22.6" lengthAdjust="spacing">4250</text>
<text x="580.5" y="48.2" font-family="Liberation Sans, sans-serif" font-size="10.3" fill="#000" textLength="22.6" lengthAdjust="spacing">4300</text>
<line x1="577" y1="365.1" x2="579" y2="365.1" stroke="#aaa" stroke-width="0.8"/>
<line x1="577" y1="360.7" x2="579" y2="360.7" stroke="#aaa" stroke-width="0.8"/>
<line x1="577" y1="356.2" x2="579" y2="356.2" stroke="#aaa" stroke-width="0.8"/>
<line x1="577" y1="351.8" x2="579" y2="351.8" stroke="#aaa" stroke-width="0.8"/>
<line x1="577" y1="347.4" x2="579" y2="347.4" stroke="#aaa" stroke-width="0.8"/>
<line x1="577" y1="343.0" x2="579" y2="343.0" stroke="#aaa" stroke-width="0.8"/>
<line x1="577" y1="338.7" x2="579" y2="338.7" stroke="#aaa" stroke-width="0.8"/>
<line x1="577" y1="334.3" x2="579" y2="334.3" stroke="#aaa" stroke-width="0.8"/>
<line x1="577" y1="330.0" x2="579" y2="330.0" stroke="#aaa" stroke-width="0.8"/>
<line x1="577" y1="325.6" x2="579" y2="325.6" stroke="#aaa" stroke-width="0.8"/>
<line x1="577" y1="321.3" x2="579" y2="321.3" stroke="#aaa" stroke-width="0.8"/>
<line x1="577" y1="317.0" x2="579" y2="317.0" stroke="#aaa" stroke-width="0.8"/>
<line x1="577" y1="312.7" x2="579" y2="312.7" stroke="#aaa" stroke-width="0.8"/>
<line x1="577" y1="308.4" x2="579" y2="308.4" stroke="#aaa" stroke-width="0.8"/>
<line x1="577" y1="304.1" x2="579" y2="304.1" stroke="#aaa" stroke-width="0.8"/>
<line x1="577" y1="299.8" x2="579" y2="299.8" stroke="#aaa" stroke-width="0.8"/>
<line x1="577" y1="295.6" x2="579" y2="295.6" stroke="#aaa" stroke-width="0.8"/>
<line x1="577" y1="291.3" x2="579" y2="291.3" stroke="#aaa" stroke-width="0.8"/>
<line x1="577" y1="287.1" x2="579" y2="287.1" stroke="#aaa" stroke-width="0.8"/>
<line x1="577" y1="282.9" x2="579" y2="282.9" stroke="#aaa" stroke-width="0.8"/>
<line x1="577" y1="278.7" x2="579" y2="278.7" stroke="#aaa" stroke-width="0.8"/>
<line x1="577" y1="274.5" x2="579" y2="274.5" stroke="#aaa" stroke-width="0.8"/>
<line x1="577" y1="270.3" x2="579" y2="270.3" stroke="#aaa" stroke-width="0.8"/>
<line x1="577" y1="266.1" x2="579" y2="266.1" stroke="#aaa" stroke-width="0.8"/>
<line x1="577" y1="262.0" x2="579" y2="262.0" stroke="#aaa" stroke-width="0.8"/>
<line x1="577" y1="257.8" x2="579" y2="257.8" stroke="#aaa" stroke-width="0.8"/>
<line x1="577" y1="253.7" x2="579" y2="253.7" stroke="#aaa" stroke-width="0.8"/>
<line x1="577" y1="249.5" x2="579" y2="249.5" stroke="#aaa" stroke-width="0.8"/>
<line x1="577" y1="245.4" x2="579" y2="245.4" stroke="#aaa" stroke-width="0.8"/>
<line x1="577" y1="241.3" x2="579" y2="241.3" stroke="#aaa" stroke-width="0.8"/>
<line x1="577" y1="237.2" x2="579" y2="237.2" stroke="#aaa" stroke-width="0.8"/>
<line x1="577" y1="233.1" x2="579" y2="233.1" stroke="#aaa" stroke-width="0.8"/>
<line x1="577" y1="229.1" x2="579" y2="229.1" stroke="#aaa" stroke-width="0.8"/>
<line x1="577" y1="225.0" x2="579" y2="225.0" stroke="#aaa" stroke-width="0.8"/>
<line x1="577" y1="220.9" x2="579" y2="220.9" stroke="#aaa" stroke-width="0.8"/>
<line x1="577" y1="216.9" x2="579" y2="216.9" stroke="#aaa" stroke-width="0.8"/>
<line x1="577" y1="212.9" x2="579" y2="212.9" stroke="#aaa" stroke-width="0.8"/>
<line x1="577" y1="208.8" x2="579" y2="208.8" stroke="#aaa" stroke-width="0.8"/>
<line x1="577" y1="204.8" x2="579" y2="204.8" stroke="#aaa" stroke-width="0.8"/>
<line x1="577" y1="200.8" x2="579" y2="200.8" stroke="#aaa" stroke-width="0.8"/>
<line x1="577" y1="196.8" x2="579" y2="196.8" stroke="#aaa" stroke-width="0.8"/>
<line x1="577" y1="192.8" x2="579" y2="192.8" stroke="#aaa" stroke-width="0.8"/>
<line x1="577" y1="188.9" x2="579" y2="188.9" stroke="#aaa" stroke-width="0.8"/>
<line x1="577" y1="184.9" x2="579" y2="184.9" stroke="#aaa" stroke-width="0.8"/>
<line x1="577" y1="181.0" x2="579" y2="181.0" stroke="#aaa" stroke-width="0.8"/>
<line x1="577" y1="177.0" x2="579" y2="177.0" stroke="#aaa" stroke-width="0.8"/>
<line x1="577" y1="173.1" x2="579" y2="173.1" stroke="#aaa" stroke-width="0.8"/>
<line x1="577" y1="169.2" x2="579" y2="169.2" stroke="#aaa" stroke-width="0.8"/>
<line x1="577" y1="165.3" x2="579" y2="165.3" stroke="#aaa" stroke-width="0.8"/>
<line x1="577" y1="161.4" x2="579" y2="161.4" stroke="#aaa" stroke-width="0.8"/>
<line x1="577" y1="157.5" x2="579" y2="157.5" stroke="#aaa" stroke-width="0.8"/>
<line x1="577" y1="153.6" x2="579" y2="153.6" stroke="#aaa" stroke-width="0.8"/>
<line x1="577" y1="149.7" x2="579" y2="149.7" stroke="#aaa" stroke-width="0.8"/>
<line x1="577" y1="145.8" x2="579" y2="145.8" stroke="#aaa" stroke-width="0.8"/>
<line x1="577" y1="142.0" x2="579" y2="142.0" stroke="#aaa" stroke-width="0.8"/>
<line x1="577" y1="138.1" x2="579" y2="138.1" stroke="#aaa" stroke-width="0.8"/>
<line x1="577" y1="134.3" x2="579" y2="134.3" stroke="#aaa" stroke-width="0.8"/>
<line x1="577" y1="130.5" x2="579" y2="130.5" stroke="#aaa" stroke-width="0.8"/>
<line x1="577" y1="126.7" x2="579" y2="126.7" stroke="#aaa" stroke-width="0.8"/>
<line x1="577" y1="122.9" x2="579" y2="122.9" stroke="#aaa" stroke-width="0.8"/>
<line x1="577" y1="119.1" x2="579" y2="119.1" stroke="#aaa" stroke-width="0.8"/>
<line x1="577" y1="115.3" x2="579" y2="115.3" stroke="#aaa" stroke-width="0.8"/>
<line x1="577" y1="111.5" x2="579" y2="111.5" stroke="#aaa" stroke-width="0.8"/>
<line x1="577" y1="107.7" x2="579" y2="107.7" stroke="#aaa" stroke-width="0.8"/>
<line x1="577" y1="104.0" x2="579" y2="104.0" stroke="#aaa" stroke-width="0.8"/>
<line x1="577" y1="100.2" x2="579" y2="100.2" stroke="#aaa" stroke-width="0.8"/>
<line x1="577" y1="96.5" x2="579" y2="96.5" stroke="#aaa" stroke-width="0.8"/>
<line x1="577" y1="92.7" x2="579" y2="92.7" stroke="#aaa" stroke-width="0.8"/>
<line x1="577" y1="89.0" x2="579" y2="89.0" stroke="#aaa" stroke-width="0.8"/>
<line x1="577" y1="85.3" x2="579" y2="85.3" stroke="#aaa" stroke-width="0.8"/>
<line x1="577" y1="81.6" x2="579" y2="81.6" stroke="#aaa" stroke-width="0.8"/>
<line x1="577" y1="77.9" x2="579" y2="77.9" stroke="#aaa" stroke-width="0.8"/>
<line x1="577" y1="74.2" x2="579" y2="74.2" stroke="#aaa" stroke-width="0.8"/>
<line x1="577" y1="70.5" x2="579" y2="70.5" stroke="#aaa" stroke-width="0.8"/>
<line x1="577" y1="66.9" x2="579" y2="66.9" stroke="#aaa" stroke-width="0.8"/>
<line x1="577" y1="63.2" x2="579" y2="63.2" stroke="#aaa" stroke-width="0.8"/>
<line x1="577" y1="59.5" x2="579" y2="59.5" stroke="#aaa" stroke-width="0.8"/>
<line x1="577" y1="55.9" x2="579" y2="55.9" stroke="#aaa" stroke-width="0.8"/>
<line x1="577" y1="52.2" x2="579" y2="52.2" stroke="#aaa" stroke-width="0.8"/>
<line x1="577" y1="48.6" x2="579" y2="48.6" stroke="#aaa" stroke-width="0.8"/>
<line x1="577" y1="45.0" x2="579" y2="45.0" stroke="#aaa" stroke-width="0.8"/>
<line x1="577" y1="41.4" x2="579" y2="41.4" stroke="#aaa" stroke-width="0.8"/>
<line x1="577" y1="37.8" x2="579" y2="37.8" stroke="#aaa" stroke-width="0.8"/>
<text x="16.4" y="359.2" font-family="Liberation Sans, sans-serif" font-size="10.3" fill="#000" textLength="12.4" lengthAdjust="spacing">1B</text>
<line x1="29" y1="355.8" x2="32" y2="355.8" stroke="#888"/>
<text x="16.4" y="341.1" font-family="Liberation Sans, sans-serif" font-size="10.3" fill="#000" textLength="12.4" lengthAdjust="spacing">2B</text>
<line x1="29" y1="337.7" x2="32" y2="337.7" stroke="#888"/>
<text x="16.4" y="322.9" font-family="Liberation Sans, sans-serif" font-size="10.3" fill="#000" textLength="12.4" lengthAdjust="spacing">3B</text>
<line x1="29" y1="319.5" x2="32" y2="319.5" stroke="#888"/>
<text x="16.4" y="305.2" font-family="Liberation Sans, sans-serif" font-size="10.3" fill="#000" textLength="12.4" lengthAdjust="spacing">4B</text>
<line x1="29" y1="301.8" x2="32" y2="301.8" stroke="#888"/>
<text x="16.4" y="287.3" font-family="Liberation Sans, sans-serif" font-size="10.3" fill="#000" textLength="12.4" lengthAdjust="spacing">5B</text>
<line x1="29" y1="283.9" x2="32" y2="283.9" stroke="#888"/>
<text x="16.4" y="268.9" font-family="Liberation Sans, sans-serif" font-size="10.3" fill="#000" textLength="12.4" lengthAdjust="spacing">6B</text>
<line x1="29" y1="265.5" x2="32" y2="265.5" stroke="#888"/>
<text x="56.5" y="385.3" font-family="Liberation Sans, sans-serif" font-size="9.4" fill="#000" textLength="14" lengthAdjust="spacing">Jul</text>
<text x="97.7" y="385.3" font-family="Liberation Sans, sans-serif" font-size="9.4" fill="#000" textLength="17.7" lengthAdjust="spacing">Aug</text>
<text x="147.6" y="385.3" font-family="Liberation Sans, sans-serif" font-size="9.4" fill="#000" textLength="17.8" lengthAdjust="spacing">Sep</text>
<text x="193.2" y="385.3" font-family="Liberation Sans, sans-serif" font-size="9.4" fill="#000" textLength="16.7" lengthAdjust="spacing">Oct</text>
<text x="237.8" y="385.3" font-family="Liberation Sans, sans-serif" font-size="9.4" fill="#000" textLength="17.4" lengthAdjust="spacing">Nov</text>
<text x="282.8" y="385.3" font-family="Liberation Sans, sans-serif" font-size="9.4" fill="#000" textLength="17.5" lengthAdjust="spacing">Dec</text>
<text x="323.3" y="385.8" font-family="Liberation Sans, sans-serif" font-size="11" font-weight="bold" fill="#000" textLength="24" lengthAdjust="spacingAndGlyphs">2023</text>
<text x="371.1" y="385.3" font-family="Liberation Sans, sans-serif" font-size="9.4" fill="#000" textLength="16.7" lengthAdjust="spacing">Feb</text>
<text x="411.5" y="385.3" font-family="Liberation Sans, sans-serif" font-size="9.4" fill="#000" textLength="18" lengthAdjust="spacing">Mar</text>
<text x="462.4" y="385.3" font-family="Liberation Sans, sans-serif" font-size="9.4" fill="#000" textLength="16.3" lengthAdjust="spacing">Apr</text>
<text x="501.9" y="385.3" font-family="Liberation Sans, sans-serif" font-size="9.4" fill="#000" textLength="19.1" lengthAdjust="spacing">May</text>
<text x="550.3" y="385.3" font-family="Liberation Sans, sans-serif" font-size="9.4" fill="#000" textLength="16.4" lengthAdjust="spacing">Jun</text>
<text x="56.5" y="765.0" font-family="Liberation Sans, sans-serif" font-size="9.4" fill="#000" textLength="14" lengthAdjust="spacing">Jul</text>
<text x="97.7" y="765.0" font-family="Liberation Sans, sans-serif" font-size="9.4" fill="#000" textLength="17.7" lengthAdjust="spacing">Aug</text>
<text x="147.6" y="765.0" font-family="Liberation Sans, sans-serif" font-size="9.4" fill="#000" textLength="17.8" lengthAdjust="spacing">Sep</text>
<text x="193.2" y="765.0" font-family="Liberation Sans, sans-serif" font-size="9.4" fill="#000" textLength="16.7" lengthAdjust="spacing">Oct</text>
<text x="237.8" y="765.0" font-family="Liberation Sans, sans-serif" font-size="9.4" fill="#000" textLength="17.4" lengthAdjust="spacing">Nov</text>
<text x="282.8" y="765.0" font-family="Liberation Sans, sans-serif" font-size="9.4" fill="#000" textLength="17.5" lengthAdjust="spacing">Dec</text>
<text x="323.3" y="765.5" font-family="Liberation Sans, sans-serif" font-size="11" font-weight="bold" fill="#000" textLength="24" lengthAdjust="spacingAndGlyphs">2023</text>
<text x="371.1" y="765.0" font-family="Liberation Sans, sans-serif" font-size="9.4" fill="#000" textLength="16.7" lengthAdjust="spacing">Feb</text>
<text x="411.5" y="765.0" font-family="Liberation Sans, sans-serif" font-size="9.4" fill="#000" textLength="18" lengthAdjust="spacing">Mar</text>
<text x="462.4" y="765.0" font-family="Liberation Sans, sans-serif" font-size="9.4" fill="#000" textLength="16.3" lengthAdjust="spacing">Apr</text>
<text x="501.9" y="765.0" font-family="Liberation Sans, sans-serif" font-size="9.4" fill="#000" textLength="19.1" lengthAdjust="spacing">May</text>
<text x="550.3" y="765.0" font-family="Liberation Sans, sans-serif" font-size="9.4" fill="#000" textLength="16.4" lengthAdjust="spacing">Jun</text>
<line x1="32.5" y1="403.5" x2="576.5" y2="403.5" stroke="#d6d6d6"/>
<line x1="32.5" y1="422.5" x2="576.5" y2="422.5" stroke="#d6d6d6"/>
<line x1="32.5" y1="441.5" x2="576.5" y2="441.5" stroke="#d6d6d6"/>
<line x1="32.5" y1="459.5" x2="576.5" y2="459.5" stroke="#d6d6d6"/>
<line x1="32.5" y1="478.5" x2="576.5" y2="478.5" stroke="#d6d6d6"/>
<line x1="32.5" y1="496.5" x2="576.5" y2="496.5" stroke="#d6d6d6"/>
<line x1="63.5" y1="389.5" x2="63.5" y2="511.5" stroke="#d6d6d6" stroke-width="1"/>
<line x1="106.5" y1="389.5" x2="106.5" y2="511.5" stroke="#d6d6d6" stroke-width="1"/>
<line x1="156.5" y1="389.5" x2="156.5" y2="511.5" stroke="#d6d6d6" stroke-width="1"/>
<line x1="201.5" y1="389.5" x2="201.5" y2="511.5" stroke="#d6d6d6" stroke-width="1"/>
<line x1="246.5" y1="389.5" x2="246.5" y2="511.5" stroke="#d6d6d6" stroke-width="1"/>
<line x1="291.5" y1="389.5" x2="291.5" y2="511.5" stroke="#d6d6d6" stroke-width="1"/>
<line x1="336.5" y1="389.5" x2="336.5" y2="511.5" stroke="#d6d6d6" stroke-width="1"/>
<line x1="379.5" y1="389.5" x2="379.5" y2="511.5" stroke="#d6d6d6" stroke-width="1"/>
<line x1="420.5" y1="389.5" x2="420.5" y2="511.5" stroke="#d6d6d6" stroke-width="1"/>
<line x1="470.5" y1="389.5" x2="470.5" y2="511.5" stroke="#d6d6d6" stroke-width="1"/>
<line x1="511.5" y1="389.5" x2="511.5" y2="511.5" stroke="#d6d6d6" stroke-width="1"/>
<line x1="558.5" y1="389.5" x2="558.5" y2="511.5" stroke="#d6d6d6" stroke-width="1"/>
<path d="M33.0,497.0 L35.2,501.5 L37.2,502.8 L39.1,502.1 L41.7,504.1 L44.3,504.5 L46.3,501.5 L48.9,500.8 L50.8,497.6 L52.1,491.8 L54.7,493.1 L57.3,497.0 L59.9,497.0 L62.5,494.4 L65.8,488.5 L69.0,486.6 L72.3,484.6 L76.8,488.5 L79.4,485.9 L82.6,480.7 L85.2,483.3 L87.8,479.4 L89.8,476.8 L91.7,472.9 L93.7,474.2 L95.6,472.9 L98.9,474.2 L102.1,469.0 L104.7,464.5 L106.7,464.7 L108.6,466.0 L111.2,464.2 L113.8,463.2 L115.8,460.8 L119.0,463.2 L121.6,459.3 L123.6,462.1 L126.2,459.9 L128.8,456.4 L132.6,456.2 L134.5,455.6 L137.1,458.8 L139.7,461.4 L142.3,462.3 L143.6,461.8 L145.6,459.7 L148.2,463.1 L150.8,465.7 L153.4,470.1 L156.6,467.5 L159.9,470.1 L161.2,469.9 L164.4,464.0 L167.7,460.5 L169.6,459.5 L171.6,463.4 L173.5,461.4 L175.5,464.0 L178.1,457.5 L180.6,454.5 L182.6,455.6 L185.8,460.1 L187.8,461.0 L189.1,460.1 L191.7,465.3 L193.0,466.6 L194.9,463.4 L196.9,464.0 L198.2,466.0 L199.5,470.5 L201.4,466.6 L203.4,461.4 L205.3,460.5 L207.9,465.3 L209.9,467.3 L212.5,468.6 L214.4,471.2 L216.4,474.4 L218.3,469.6 L220.3,473.1 L222.2,471.4 L224.8,471.4 L227.4,472.5 L229.6,475.1 L231.9,469.2 L235.1,463.4 L237.7,467.9 L240.3,471.8 L242.3,467.3 L244.9,470.5 L247.5,474.4 L249.4,479.0 L251.4,478.7 L254.0,476.1 L256.6,473.8 L257.9,474.0 L259.4,477.7 L263.1,467.3 L265.7,472.2 L268.3,472.5 L270.2,475.1 L272.8,471.8 L276.7,469.9 L279.9,465.7 L283.2,465.7 L285.8,468.6 L287.7,468.3 L289.7,461.4 L291.6,460.8 L293.6,458.4 L296.2,461.4 L299.4,463.6 L302.0,462.3 L304.0,466.6 L305.9,462.3 L308.5,465.3 L311.1,466.6 L314.4,470.5 L317.6,473.5 L320.2,471.8 L324.1,467.9 L326.7,466.2 L330.5,468.9 L334.4,464.4 L336.4,465.0 L338.3,463.7 L340.9,465.9 L343.5,463.7 L345.5,467.2 L348.7,459.8 L351.3,456.8 L354.6,453.3 L357.8,458.5 L360.0,462.0 L363.0,457.2 L366.3,453.7 L368.9,450.1 L371.5,445.5 L373.4,445.9 L375.4,449.4 L378.0,442.9 L379.9,441.0 L382.5,438.4 L384.4,441.0 L386.4,441.0 L388.3,437.7 L390.3,441.0 L392.5,444.2 L394.8,441.0 L397.4,437.7 L399.4,436.4 L401.3,432.5 L403.3,436.0 L405.2,433.4 L407.8,437.7 L409.8,438.4 L412.4,436.4 L415.0,434.5 L416.9,436.4 L418.9,441.6 L420.5,442.3 L423.4,438.4 L425.6,435.5 L427.9,438.7 L429.8,441.9 L431.8,440.6 L433.7,444.5 L435.9,448.2 L438.3,447.8 L440.2,445.2 L442.2,439.4 L444.1,433.5 L446.3,436.8 L450.0,430.9 L452.8,434.8 L455.2,436.1 L457.8,432.9 L461.0,434.2 L463.6,429.6 L466.2,427.0 L470.1,421.2 L472.7,420.9 L474.6,420.1 L478.5,413.4 L481.1,416.0 L483.7,417.9 L485.7,415.7 L487.6,415.3 L489.6,412.1 L491.5,411.4 L493.5,409.7 L496.1,410.5 L500.0,405.3 L502.1,409.4 L504.4,413.3 L506.2,408.4 L508.3,404.2 L510.9,405.8 L513.5,407.3 L515.6,412.0 L517.1,413.3 L519.2,410.5 L521.3,408.4 L523.4,409.4 L524.9,409.9 L527.0,407.9 L528.6,405.3 L530.6,404.7 L532.2,402.7 L534.3,406.3 L536.9,402.7 L539.5,399.0 L542.6,400.6 L545.7,405.3 L547.8,406.3 L549.9,404.2 L551.4,401.6 L554.0,403.2 L556.1,403.5 L558.2,400.6 L560.3,397.5 L562.3,399.0 L564.4,396.4 L566.0,398.5 L567.5,400.4 L569.6,397.3 L571.7,399.3" fill="none" stroke="#000" stroke-width="1.8" stroke-linejoin="round"/>
<rect x="32.5" y="391" width="78" height="11" fill="#fff"/>
<rect x="35" y="395.5" width="8" height="2" fill="#000"/>
<text x="46.4" y="400.5" font-family="Liberation Sans, sans-serif" font-size="10" fill="#000" textLength="61" lengthAdjust="spacing">Accum/Dist</text>
<rect x="32.5" y="389.5" width="544.0" height="122.0" fill="none" stroke="#a8a8a8"/>
<line x1="32.5" y1="520.5" x2="576.5" y2="520.5" stroke="#d6d6d6"/>
<line x1="32.5" y1="537.5" x2="576.5" y2="537.5" stroke="#d6d6d6"/>
<line x1="32.5" y1="554.5" x2="576.5" y2="554.5" stroke="#d6d6d6"/>
<line x1="32.5" y1="571.5" x2="576.5" y2="571.5" stroke="#d6d6d6"/>
<line x1="32.5" y1="587.5" x2="576.5" y2="587.5" stroke="#d6d6d6"/>
<line x1="32.5" y1="604.5" x2="576.5" y2="604.5" stroke="#d6d6d6"/>
<line x1="32.5" y1="621.5" x2="576.5" y2="621.5" stroke="#d6d6d6"/>
<line x1="63.5" y1="511.5" x2="63.5" y2="633.5" stroke="#d6d6d6" stroke-width="1"/>
<line x1="106.5" y1="511.5" x2="106.5" y2="633.5" stroke="#d6d6d6" stroke-width="1"/>
<line x1="156.5" y1="511.5" x2="156.5" y2="633.5" stroke="#d6d6d6" stroke-width="1"/>
<line x1="201.5" y1="511.5" x2="201.5" y2="633.5" stroke="#d6d6d6" stroke-width="1"/>
<line x1="246.5" y1="511.5" x2="246.5" y2="633.5" stroke="#d6d6d6" stroke-width="1"/>
<line x1="291.5" y1="511.5" x2="291.5" y2="633.5" stroke="#d6d6d6" stroke-width="1"/>
<line x1="336.5" y1="511.5" x2="336.5" y2="633.5" stroke="#d6d6d6" stroke-width="1"/>
<line x1="379.5" y1="511.5" x2="379.5" y2="633.5" stroke="#d6d6d6" stroke-width="1"/>
<line x1="420.5" y1="511.5" x2="420.5" y2="633.5" stroke="#d6d6d6" stroke-width="1"/>
<line x1="470.5" y1="511.5" x2="470.5" y2="633.5" stroke="#d6d6d6" stroke-width="1"/>
<line x1="511.5" y1="511.5" x2="511.5" y2="633.5" stroke="#d6d6d6" stroke-width="1"/>
<line x1="558.5" y1="511.5" x2="558.5" y2="633.5" stroke="#d6d6d6" stroke-width="1"/>
<path d="M33.0,530.3 L35.2,536.4 L37.5,541.6 L39.5,537.1 L42.4,541.0 L44.3,534.5 L46.3,529.5 L48.6,533.2 L51.5,525.4 L53.4,524.7 L56.0,529.3 L58.6,534.5 L61.6,538.4 L64.5,533.2 L67.7,528.0 L71.0,524.4 L73.6,528.0 L76.8,533.8 L80.7,540.3 L82.9,537.1 L85.2,540.3 L89.1,533.2 L92.0,528.6 L94.3,530.3 L96.3,528.6 L98.5,531.9 L102.1,524.7 L105.0,521.5 L108.0,525.4 L109.9,525.4 L113.2,528.0 L116.4,533.2 L119.7,536.4 L122.9,533.2 L124.5,535.8 L128.1,531.2 L130.0,527.3 L132.3,529.9 L134.5,527.7 L137.1,532.5 L139.1,535.1 L141.7,537.1 L145.3,531.6 L148.8,536.4 L151.4,541.0 L153.6,545.1 L156.6,541.6 L160.5,548.1 L163.8,542.3 L167.0,536.4 L169.6,534.5 L171.6,538.1 L173.5,534.5 L175.5,537.7 L177.4,545.9 L179.4,542.5 L181.9,546.8 L185.2,551.4 L188.4,559.2 L192.3,567.0 L194.3,563.7 L196.9,567.0 L199.5,573.4 L203.4,564.4 L206.6,570.8 L209.2,576.7 L212.5,581.2 L216.4,589.0 L218.6,585.1 L220.6,588.0 L224.2,580.6 L227.4,584.5 L229.6,587.9 L232.5,580.8 L235.5,574.5 L238.1,580.1 L240.3,584.0 L242.3,579.5 L245.5,586.6 L248.1,592.5 L250.7,598.3 L253.3,593.1 L257.2,586.0 L259.4,589.2 L263.1,578.8 L265.7,583.1 L268.5,578.4 L272.2,586.0 L274.8,582.7 L277.1,586.0 L280.6,579.5 L283.8,581.4 L287.7,588.3 L289.7,581.4 L292.9,587.9 L296.8,594.4 L300.7,600.3 L302.7,597.7 L304.9,600.3 L308.5,591.2 L311.1,594.4 L313.7,600.9 L317.0,611.9 L321.2,605.5 L323.5,608.7 L326.7,606.5 L328.0,608.1 L330.5,612.0 L332.5,609.4 L334.4,612.7 L336.4,616.3 L338.3,612.9 L341.6,615.0 L343.5,611.6 L345.5,615.0 L348.7,609.0 L351.3,604.2 L354.3,600.3 L357.4,606.2 L360.4,612.4 L364.3,604.6 L369.5,612.4 L373.4,603.6 L375.4,607.2 L379.2,597.1 L382.2,592.5 L386.4,599.7 L388.6,596.4 L392.5,604.2 L396.8,598.1 L399.4,601.0 L401.3,597.7 L405.5,605.5 L409.1,613.3 L412.4,609.4 L414.3,612.9 L416.3,609.4 L420.2,617.2 L423.4,612.7 L424.0,612.5 L427.2,606.6 L429.5,610.5 L431.5,607.3 L434.4,613.8 L437.6,623.5 L440.2,617.7 L442.4,623.1 L444.5,617.4 L446.7,626.1 L450.6,617.7 L453.9,621.3 L459.3,608.3 L461.7,610.9 L466.2,603.4 L470.5,596.2 L474.4,604.0 L478.3,597.5 L483.5,604.0 L485.7,600.8 L487.6,604.0 L491.3,597.5 L496.5,604.0 L500.0,597.1 L502.1,599.7 L504.4,606.5 L506.2,601.8 L508.3,596.8 L511.4,599.9 L514.5,607.5 L517.5,614.3 L521.3,606.5 L524.9,610.3 L526.8,606.5 L530.6,613.5 L532.7,610.6 L534.8,613.2 L539.5,605.1 L541.4,609.1 L543.1,605.5 L547.6,613.5 L550.9,605.5 L554.5,600.3 L556.6,607.2 L560.8,598.2 L562.3,601.8 L564.4,598.5 L567.7,603.4 L571.7,596.6" fill="none" stroke="#000" stroke-width="1.8" stroke-linejoin="round"/>
<rect x="32.5" y="513" width="98" height="11" fill="#fff"/>
<rect x="35" y="517.5" width="8" height="2" fill="#000"/>
<text x="48.2" y="522.5" font-family="Liberation Sans, sans-serif" font-size="10" fill="#000" textLength="81" lengthAdjust="spacing">On Balance Vol</text>
<rect x="32.5" y="511.5" width="544.0" height="122.0" fill="none" stroke="#a8a8a8"/>
<line x1="32.5" y1="651.5" x2="576.5" y2="651.5" stroke="#d6d6d6"/>
<line x1="32.5" y1="662.5" x2="576.5" y2="662.5" stroke="#d6d6d6"/>
<line x1="32.5" y1="684.5" x2="576.5" y2="684.5" stroke="#d6d6d6"/>
<line x1="32.5" y1="705.5" x2="576.5" y2="705.5" stroke="#d6d6d6"/>
<line x1="32.5" y1="727.5" x2="576.5" y2="727.5" stroke="#d6d6d6"/>
<line x1="32.5" y1="737.5" x2="576.5" y2="737.5" stroke="#d6d6d6"/>
<line x1="63.5" y1="633.5" x2="63.5" y2="755.5" stroke="#d6d6d6" stroke-width="1"/>
<line x1="106.5" y1="633.5" x2="106.5" y2="755.5" stroke="#d6d6d6" stroke-width="1"/>
<line x1="156.5" y1="633.5" x2="156.5" y2="755.5" stroke="#d6d6d6" stroke-width="1"/>
<line x1="201.5" y1="633.5" x2="201.5" y2="755.5" stroke="#d6d6d6" stroke-width="1"/>
<line x1="246.5" y1="633.5" x2="246.5" y2="755.5" stroke="#d6d6d6" stroke-width="1"/>
<line x1="291.5" y1="633.5" x2="291.5" y2="755.5" stroke="#d6d6d6" stroke-width="1"/>
<line x1="336.5" y1="633.5" x2="336.5" y2="755.5" stroke="#d6d6d6" stroke-width="1"/>
<line x1="379.5" y1="633.5" x2="379.5" y2="755.5" stroke="#d6d6d6" stroke-width="1"/>
<line x1="420.5" y1="633.5" x2="420.5" y2="755.5" stroke="#d6d6d6" stroke-width="1"/>
<line x1="470.5" y1="633.5" x2="470.5" y2="755.5" stroke="#d6d6d6" stroke-width="1"/>
<line x1="511.5" y1="633.5" x2="511.5" y2="755.5" stroke="#d6d6d6" stroke-width="1"/>
<line x1="558.5" y1="633.5" x2="558.5" y2="755.5" stroke="#d6d6d6" stroke-width="1"/>
<clipPath id="ob"><rect x="32.5" y="633.5" width="544.0" height="39.8"/></clipPath>
<path d="M33.3,707.5 L35.5,714.1 L37.7,714.6 L39.8,710.1 L42.0,715.1 L44.1,714.5 L46.3,707.2 L48.4,707.5 L50.6,704.6 L52.7,696.3 L54.9,697.0 L57.0,701.8 L59.2,701.9 L61.3,704.0 L63.5,700.6 L65.7,700.1 L67.8,698.9 L70.0,694.0 L72.1,694.3 L74.3,698.1 L76.4,701.0 L78.6,702.4 L80.7,703.3 L82.9,695.7 L85.0,698.7 L87.2,689.3 L89.3,687.5 L91.5,684.6 L93.7,688.5 L95.8,688.1 L98.0,692.8 L100.1,684.6 L102.3,681.3 L104.4,677.7 L106.6,679.0 L108.7,682.2 L110.9,678.0 L113.0,678.4 L115.2,679.2 L117.3,679.9 L119.5,682.4 L121.7,675.7 L123.8,676.2 L126.0,671.5 L128.1,670.5 L130.3,670.0 L132.4,675.0 L134.6,674.3 L136.7,682.7 L138.9,693.7 L141.0,694.7 L143.2,693.4 L145.4,687.4 L147.5,701.4 L149.7,703.6 L151.8,706.9 L154.0,709.1 L156.1,707.7 L158.3,710.8 L160.4,711.9 L162.6,703.0 L164.7,700.1 L166.9,693.8 L169.0,689.9 L171.2,704.5 L173.4,703.3 L175.5,706.3 L177.7,708.1 L179.8,705.3 L182.0,708.3 L184.1,712.4 L186.3,714.2 L188.4,717.6 L190.6,719.4 L192.7,719.8 L194.9,710.9 L197.0,715.4 L199.2,718.0 L201.4,708.2 L203.5,698.5 L205.7,699.0 L207.8,701.7 L210.0,708.1 L212.1,709.6 L214.3,710.8 L216.4,711.5 L218.6,702.4 L220.7,707.7 L222.9,699.8 L225.0,696.6 L227.2,698.4 L229.4,700.4 L231.5,693.6 L233.7,690.5 L235.8,686.5 L238.0,688.9 L240.1,690.9 L242.3,684.6 L244.4,687.2 L246.6,688.6 L248.7,696.5 L250.9,699.4 L253.1,695.3 L255.2,692.5 L257.4,690.9 L259.5,697.4 L261.7,683.8 L263.8,682.0 L266.0,684.9 L268.1,683.0 L270.3,685.8 L272.4,686.9 L274.6,685.6 L276.7,687.1 L278.9,683.4 L281.1,681.8 L283.2,681.9 L285.4,688.7 L287.5,689.3 L289.7,680.3 L291.8,680.7 L294.0,681.3 L296.1,689.4 L298.3,694.9 L300.4,695.5 L302.6,692.7 L304.7,695.6 L306.9,690.3 L309.1,687.8 L311.2,690.5 L313.4,700.0 L315.5,703.5 L317.7,706.1 L319.8,705.6 L322.0,699.3 L324.1,703.9 L326.3,701.5 L328.4,702.8 L330.6,706.6 L332.8,699.2 L334.9,700.0 L337.1,701.5 L339.2,698.1 L341.4,702.4 L343.5,693.1 L345.7,693.4 L347.8,690.7 L350.0,686.1 L352.1,684.9 L354.3,683.4 L356.4,684.6 L358.6,692.6 L360.8,696.1 L362.9,688.4 L365.1,684.2 L367.2,684.6 L369.4,684.7 L371.5,680.6 L373.7,679.8 L375.8,687.4 L378.0,682.0 L380.1,678.5 L382.3,674.2 L384.4,680.2 L386.6,683.6 L388.8,679.4 L390.9,685.2 L393.1,689.5 L395.2,688.6 L397.4,684.4 L399.5,684.5 L401.7,683.5 L403.8,691.1 L406.0,692.5 L408.1,701.5 L410.3,702.1 L412.4,699.3 L414.6,703.7 L416.8,702.0 L418.9,703.3 L421.1,705.3 L423.2,700.8 L425.4,692.4 L427.5,692.0 L429.7,699.7 L431.8,698.9 L434.0,706.7 L436.1,711.4 L438.3,711.9 L440.4,702.9 L442.6,705.4 L444.8,697.0 L446.9,701.3 L449.1,697.3 L451.2,691.9 L453.4,698.5 L455.5,697.3 L457.7,694.9 L459.8,694.1 L462.0,694.9 L464.1,688.6 L466.3,686.3 L468.5,681.0 L470.6,679.7 L472.8,683.2 L474.9,684.7 L477.1,683.3 L479.2,682.8 L481.4,682.9 L483.5,685.9 L485.7,679.7 L487.8,681.3 L490.0,679.8 L492.1,679.4 L494.3,679.4 L496.5,684.9 L498.6,684.3 L500.8,683.8 L502.9,696.8 L505.1,699.4 L507.2,687.0 L509.4,682.9 L511.5,683.2 L513.7,691.5 L515.8,695.9 L518.0,700.0 L520.1,689.7 L522.3,689.4 L524.5,692.3 L526.6,689.8 L528.8,691.0 L530.9,692.1 L533.1,690.2 L535.2,694.8 L537.4,687.5 L539.5,682.6 L541.7,683.7 L543.8,683.6 L546.0,692.4 L548.1,697.2 L550.3,691.6 L552.5,684.7 L554.6,684.7 L556.8,689.2 L558.9,684.0 L561.1,677.6 L563.2,679.2 L565.4,678.1 L567.5,681.3 L569.7,678.4 L571.8,677.8 L571.8,673.3 L33.3,673.3 Z" fill="#8aa080" clip-path="url(#ob)"/>
<clipPath id="os"><rect x="32.5" y="716.4" width="544.0" height="39.1"/></clipPath>
<path d="M33.3,707.5 L35.5,714.1 L37.7,714.6 L39.8,710.1 L42.0,715.1 L44.1,714.5 L46.3,707.2 L48.4,707.5 L50.6,704.6 L52.7,696.3 L54.9,697.0 L57.0,701.8 L59.2,701.9 L61.3,704.0 L63.5,700.6 L65.7,700.1 L67.8,698.9 L70.0,694.0 L72.1,694.3 L74.3,698.1 L76.4,701.0 L78.6,702.4 L80.7,703.3 L82.9,695.7 L85.0,698.7 L87.2,689.3 L89.3,687.5 L91.5,684.6 L93.7,688.5 L95.8,688.1 L98.0,692.8 L100.1,684.6 L102.3,681.3 L104.4,677.7 L106.6,679.0 L108.7,682.2 L110.9,678.0 L113.0,678.4 L115.2,679.2 L117.3,679.9 L119.5,682.4 L121.7,675.7 L123.8,676.2 L126.0,671.5 L128.1,670.5 L130.3,670.0 L132.4,675.0 L134.6,674.3 L136.7,682.7 L138.9,693.7 L141.0,694.7 L143.2,693.4 L145.4,687.4 L147.5,701.4 L149.7,703.6 L151.8,706.9 L154.0,709.1 L156.1,707.7 L158.3,710.8 L160.4,711.9 L162.6,703.0 L164.7,700.1 L166.9,693.8 L169.0,689.9 L171.2,704.5 L173.4,703.3 L175.5,706.3 L177.7,708.1 L179.8,705.3 L182.0,708.3 L184.1,712.4 L186.3,714.2 L188.4,717.6 L190.6,719.4 L192.7,719.8 L194.9,710.9 L197.0,715.4 L199.2,718.0 L201.4,708.2 L203.5,698.5 L205.7,699.0 L207.8,701.7 L210.0,708.1 L212.1,709.6 L214.3,710.8 L216.4,711.5 L218.6,702.4 L220.7,707.7 L222.9,699.8 L225.0,696.6 L227.2,698.4 L229.4,700.4 L231.5,693.6 L233.7,690.5 L235.8,686.5 L238.0,688.9 L240.1,690.9 L242.3,684.6 L244.4,687.2 L246.6,688.6 L248.7,696.5 L250.9,699.4 L253.1,695.3 L255.2,692.5 L257.4,690.9 L259.5,697.4 L261.7,683.8 L263.8,682.0 L266.0,684.9 L268.1,683.0 L270.3,685.8 L272.4,686.9 L274.6,685.6 L276.7,687.1 L278.9,683.4 L281.1,681.8 L283.2,681.9 L285.4,688.7 L287.5,689.3 L289.7,680.3 L291.8,680.7 L294.0,681.3 L296.1,689.4 L298.3,694.9 L300.4,695.5 L302.6,692.7 L304.7,695.6 L306.9,690.3 L309.1,687.8 L311.2,690.5 L313.4,700.0 L315.5,703.5 L317.7,706.1 L319.8,705.6 L322.0,699.3 L324.1,703.9 L326.3,701.5 L328.4,702.8 L330.6,706.6 L332.8,699.2 L334.9,700.0 L337.1,701.5 L339.2,698.1 L341.4,702.4 L343.5,693.1 L345.7,693.4 L347.8,690.7 L350.0,686.1 L352.1,684.9 L354.3,683.4 L356.4,684.6 L358.6,692.6 L360.8,696.1 L362.9,688.4 L365.1,684.2 L367.2,684.6 L369.4,684.7 L371.5,680.6 L373.7,679.8 L375.8,687.4 L378.0,682.0 L380.1,678.5 L382.3,674.2 L384.4,680.2 L386.6,683.6 L388.8,679.4 L390.9,685.2 L393.1,689.5 L395.2,688.6 L397.4,684.4 L399.5,684.5 L401.7,683.5 L403.8,691.1 L406.0,692.5 L408.1,701.5 L410.3,702.1 L412.4,699.3 L414.6,703.7 L416.8,702.0 L418.9,703.3 L421.1,705.3 L423.2,700.8 L425.4,692.4 L427.5,692.0 L429.7,699.7 L431.8,698.9 L434.0,706.7 L436.1,711.4 L438.3,711.9 L440.4,702.9 L442.6,705.4 L444.8,697.0 L446.9,701.3 L449.1,697.3 L451.2,691.9 L453.4,698.5 L455.5,697.3 L457.7,694.9 L459.8,694.1 L462.0,694.9 L464.1,688.6 L466.3,686.3 L468.5,681.0 L470.6,679.7 L472.8,683.2 L474.9,684.7 L477.1,683.3 L479.2,682.8 L481.4,682.9 L483.5,685.9 L485.7,679.7 L487.8,681.3 L490.0,679.8 L492.1,679.4 L494.3,679.4 L496.5,684.9 L498.6,684.3 L500.8,683.8 L502.9,696.8 L505.1,699.4 L507.2,687.0 L509.4,682.9 L511.5,683.2 L513.7,691.5 L515.8,695.9 L518.0,700.0 L520.1,689.7 L522.3,689.4 L524.5,692.3 L526.6,689.8 L528.8,691.0 L530.9,692.1 L533.1,690.2 L535.2,694.8 L537.4,687.5 L539.5,682.6 L541.7,683.7 L543.8,683.6 L546.0,692.4 L548.1,697.2 L550.3,691.6 L552.5,684.7 L554.6,684.7 L556.8,689.2 L558.9,684.0 L561.1,677.6 L563.2,679.2 L565.4,678.1 L567.5,681.3 L569.7,678.4 L571.8,677.8 L571.8,716.4 L33.3,716.4 Z" fill="#8aa080" clip-path="url(#os)"/>
<line x1="32.5" y1="673.5" x2="576.5" y2="673.5" stroke="#555" stroke-width="1"/>
<line x1="32.5" y1="716.5" x2="576.5" y2="716.5" stroke="#555" stroke-width="1"/>
<line x1="32.5" y1="694.5" x2="576.5" y2="694.5" stroke="#555" stroke-width="1" stroke-dasharray="6,2,1,2"/>
<path d="M33.3,707.5 L35.5,714.1 L37.7,714.6 L39.8,710.1 L42.0,715.1 L44.1,714.5 L46.3,707.2 L48.4,707.5 L50.6,704.6 L52.7,696.3 L54.9,697.0 L57.0,701.8 L59.2,701.9 L61.3,704.0 L63.5,700.6 L65.7,700.1 L67.8,698.9 L70.0,694.0 L72.1,694.3 L74.3,698.1 L76.4,701.0 L78.6,702.4 L80.7,703.3 L82.9,695.7 L85.0,698.7 L87.2,689.3 L89.3,687.5 L91.5,684.6 L93.7,688.5 L95.8,688.1 L98.0,692.8 L100.1,684.6 L102.3,681.3 L104.4,677.7 L106.6,679.0 L108.7,682.2 L110.9,678.0 L113.0,678.4 L115.2,679.2 L117.3,679.9 L119.5,682.4 L121.7,675.7 L123.8,676.2 L126.0,671.5 L128.1,670.5 L130.3,670.0 L132.4,675.0 L134.6,674.3 L136.7,682.7 L138.9,693.7 L141.0,694.7 L143.2,693.4 L145.4,687.4 L147.5,701.4 L149.7,703.6 L151.8,706.9 L154.0,709.1 L156.1,707.7 L158.3,710.8 L160.4,711.9 L162.6,703.0 L164.7,700.1 L166.9,693.8 L169.0,689.9 L171.2,704.5 L173.4,703.3 L175.5,706.3 L177.7,708.1 L179.8,705.3 L182.0,708.3 L184.1,712.4 L186.3,714.2 L188.4,717.6 L190.6,719.4 L192.7,719.8 L194.9,710.9 L197.0,715.4 L199.2,718.0 L201.4,708.2 L203.5,698.5 L205.7,699.0 L207.8,701.7 L210.0,708.1 L212.1,709.6 L214.3,710.8 L216.4,711.5 L218.6,702.4 L220.7,707.7 L222.9,699.8 L225.0,696.6 L227.2,698.4 L229.4,700.4 L231.5,693.6 L233.7,690.5 L235.8,686.5 L238.0,688.9 L240.1,690.9 L242.3,684.6 L244.4,687.2 L246.6,688.6 L248.7,696.5 L250.9,699.4 L253.1,695.3 L255.2,692.5 L257.4,690.9 L259.5,697.4 L261.7,683.8 L263.8,682.0 L266.0,684.9 L268.1,683.0 L270.3,685.8 L272.4,686.9 L274.6,685.6 L276.7,687.1 L278.9,683.4 L281.1,681.8 L283.2,681.9 L285.4,688.7 L287.5,689.3 L289.7,680.3 L291.8,680.7 L294.0,681.3 L296.1,689.4 L298.3,694.9 L300.4,695.5 L302.6,692.7 L304.7,695.6 L306.9,690.3 L309.1,687.8 L311.2,690.5 L313.4,700.0 L315.5,703.5 L317.7,706.1 L319.8,705.6 L322.0,699.3 L324.1,703.9 L326.3,701.5 L328.4,702.8 L330.6,706.6 L332.8,699.2 L334.9,700.0 L337.1,701.5 L339.2,698.1 L341.4,702.4 L343.5,693.1 L345.7,693.4 L347.8,690.7 L350.0,686.1 L352.1,684.9 L354.3,683.4 L356.4,684.6 L358.6,692.6 L360.8,696.1 L362.9,688.4 L365.1,684.2 L367.2,684.6 L369.4,684.7 L371.5,680.6 L373.7,679.8 L375.8,687.4 L378.0,682.0 L380.1,678.5 L382.3,674.2 L384.4,680.2 L386.6,683.6 L388.8,679.4 L390.9,685.2 L393.1,689.5 L395.2,688.6 L397.4,684.4 L399.5,684.5 L401.7,683.5 L403.8,691.1 L406.0,692.5 L408.1,701.5 L410.3,702.1 L412.4,699.3 L414.6,703.7 L416.8,702.0 L418.9,703.3 L421.1,705.3 L423.2,700.8 L425.4,692.4 L427.5,692.0 L429.7,699.7 L431.8,698.9 L434.0,706.7 L436.1,711.4 L438.3,711.9 L440.4,702.9 L442.6,705.4 L444.8,697.0 L446.9,701.3 L449.1,697.3 L451.2,691.9 L453.4,698.5 L455.5,697.3 L457.7,694.9 L459.8,694.1 L462.0,694.9 L464.1,688.6 L466.3,686.3 L468.5,681.0 L470.6,679.7 L472.8,683.2 L474.9,684.7 L477.1,683.3 L479.2,682.8 L481.4,682.9 L483.5,685.9 L485.7,679.7 L487.8,681.3 L490.0,679.8 L492.1,679.4 L494.3,679.4 L496.5,684.9 L498.6,684.3 L500.8,683.8 L502.9,696.8 L505.1,699.4 L507.2,687.0 L509.4,682.9 L511.5,683.2 L513.7,691.5 L515.8,695.9 L518.0,700.0 L520.1,689.7 L522.3,689.4 L524.5,692.3 L526.6,689.8 L528.8,691.0 L530.9,692.1 L533.1,690.2 L535.2,694.8 L537.4,687.5 L539.5,682.6 L541.7,683.7 L543.8,683.6 L546.0,692.4 L548.1,697.2 L550.3,691.6 L552.5,684.7 L554.6,684.7 L556.8,689.2 L558.9,684.0 L561.1,677.6 L563.2,679.2 L565.4,678.1 L567.5,681.3 L569.7,678.4 L571.8,677.8" fill="none" stroke="#000" stroke-width="1" stroke-linejoin="round"/>
<rect x="32.5" y="635" width="98" height="11" fill="#fff"/>
<path d="M35.6,643.3 L37,639.5 L38.5,637.2 L39.6,635.6 L40.8,638.5 L42.2,640.8 L43.4,637.4 L43.4,643.3 Z" fill="#8aa684" stroke="#000" stroke-width="1.1" stroke-linejoin="round"/>
<text x="47.5" y="644.5" font-family="Liberation Sans, sans-serif" font-size="10" fill="#000" textLength="78.5" lengthAdjust="spacing">RSI(14) 65.78</text>
<rect x="32.5" y="633.5" width="544.0" height="122.0" fill="none" stroke="#a8a8a8"/>
<text x="580.5" y="654.8" font-family="Liberation Sans, sans-serif" font-size="10" fill="#000" textLength="11.5" lengthAdjust="spacing">90</text>
<text x="580.5" y="676.3" font-family="Liberation Sans, sans-serif" font-size="10" fill="#000" textLength="11.5" lengthAdjust="spacing">70</text>
<text x="580.5" y="697.9" font-family="Liberation Sans, sans-serif" font-size="10" fill="#000" textLength="11.5" lengthAdjust="spacing">50</text>
<text x="580.5" y="719.4" font-family="Liberation Sans, sans-serif" font-size="10" fill="#000" textLength="11.5" lengthAdjust="spacing">30</text>
<text x="580.5" y="740.9" font-family="Liberation Sans, sans-serif" font-size="10" fill="#000" textLength="11.5" lengthAdjust="spacing">10</text>
<line x1="625.5" y1="357.5" x2="726.5" y2="357.5" stroke="#d6d6d6"/>
<line x1="625.5" y1="342.5" x2="726.5" y2="342.5" stroke="#d6d6d6"/>
<line x1="625.5" y1="326.5" x2="726.5" y2="326.5" stroke="#d6d6d6"/>
<line x1="625.5" y1="311.5" x2="726.5" y2="311.5" stroke="#d6d6d6"/>
<line x1="625.5" y1="296.5" x2="726.5" y2="296.5" stroke="#d6d6d6"/>
<line x1="625.5" y1="280.5" x2="726.5" y2="280.5" stroke="#d6d6d6"/>
<line x1="625.5" y1="265.5" x2="726.5" y2="265.5" stroke="#d6d6d6"/>
<line x1="625.5" y1="250.5" x2="726.5" y2="250.5" stroke="#d6d6d6"/>
<line x1="625.5" y1="234.5" x2="726.5" y2="234.5" stroke="#d6d6d6"/>
<line x1="625.5" y1="219.5" x2="726.5" y2="219.5" stroke="#d6d6d6"/>
<line x1="625.5" y1="204.5" x2="726.5" y2="204.5" stroke="#d6d6d6"/>
<line x1="625.5" y1="189.5" x2="726.5" y2="189.5" stroke="#d6d6d6"/>
<line x1="625.5" y1="174.5" x2="726.5" y2="174.5" stroke="#d6d6d6"/>
<line x1="625.5" y1="158.5" x2="726.5" y2="158.5" stroke="#d6d6d6"/>
<line x1="625.5" y1="143.5" x2="726.5" y2="143.5" stroke="#d6d6d6"/>
<line x1="625.5" y1="128.5" x2="726.5" y2="128.5" stroke="#d6d6d6"/>
<line x1="625.5" y1="113.5" x2="726.5" y2="113.5" stroke="#d6d6d6"/>
<line x1="625.5" y1="99.5" x2="726.5" y2="99.5" stroke="#d6d6d6"/>
<line x1="625.5" y1="84.5" x2="726.5" y2="84.5" stroke="#d6d6d6"/>
<line x1="625.5" y1="69.5" x2="726.5" y2="69.5" stroke="#d6d6d6"/>
<line x1="625.5" y1="54.5" x2="726.5" y2="54.5" stroke="#d6d6d6"/>
<line x1="625.5" y1="39.5" x2="726.5" y2="39.5" stroke="#d6d6d6"/>
<line x1="629.5" y1="28.5" x2="629.5" y2="375.5" stroke="#d6d6d6"/>
<line x1="654.5" y1="28.5" x2="654.5" y2="375.5" stroke="#d6d6d6"/>
<line x1="679.5" y1="28.5" x2="679.5" y2="375.5" stroke="#d6d6d6"/>
<line x1="689.5" y1="28.5" x2="689.5" y2="375.5" stroke="#d6d6d6"/>
<line x1="699.5" y1="28.5" x2="699.5" y2="375.5" stroke="#d6d6d6"/>
<line x1="724.5" y1="28.5" x2="724.5" y2="375.5" stroke="#d6d6d6"/>
<g clip-path="url(#cpm)">
<rect x="621.90" y="330.2" width="5" height="45.3" fill="#f2b6bc" stroke="#d4949c" stroke-width="0.7"/>
<rect x="626.90" y="329.3" width="5" height="46.2" fill="#c4c4c4" stroke="#9a9a9a" stroke-width="0.7"/>
<rect x="631.90" y="326.7" width="5" height="48.8" fill="#f2b6bc" stroke="#d4949c" stroke-width="0.7"/>
<rect x="636.90" y="321.4" width="5" height="54.1" fill="#c4c4c4" stroke="#9a9a9a" stroke-width="0.7"/>
<rect x="641.90" y="321.4" width="5" height="54.1" fill="#c4c4c4" stroke="#9a9a9a" stroke-width="0.7"/>
<rect x="646.90" y="324.9" width="5" height="50.6" fill="#f2b6bc" stroke="#d4949c" stroke-width="0.7"/>
<rect x="651.90" y="326.7" width="5" height="48.8" fill="#c4c4c4" stroke="#9a9a9a" stroke-width="0.7"/>
<rect x="656.90" y="321.4" width="5" height="54.1" fill="#f2b6bc" stroke="#d4949c" stroke-width="0.7"/>
<rect x="661.90" y="324.0" width="5" height="51.5" fill="#f2b6bc" stroke="#d4949c" stroke-width="0.7"/>
<rect x="666.90" y="312.5" width="5" height="63.0" fill="#c4c4c4" stroke="#9a9a9a" stroke-width="0.7"/>
<rect x="671.90" y="317.8" width="5" height="57.7" fill="#c4c4c4" stroke="#9a9a9a" stroke-width="0.7"/>
<rect x="676.90" y="318.7" width="5" height="56.8" fill="#c4c4c4" stroke="#9a9a9a" stroke-width="0.7"/>
<rect x="681.90" y="276.8" width="5" height="98.7" fill="#f2b6bc" stroke="#d4949c" stroke-width="0.7"/>
<rect x="686.90" y="317.8" width="5" height="57.7" fill="#c4c4c4" stroke="#9a9a9a" stroke-width="0.7"/>
<rect x="691.90" y="315.1" width="5" height="60.4" fill="#c4c4c4" stroke="#9a9a9a" stroke-width="0.7"/>
<rect x="696.90" y="326.7" width="5" height="48.8" fill="#f2b6bc" stroke="#d4949c" stroke-width="0.7"/>
<rect x="701.90" y="324.9" width="5" height="50.6" fill="#c4c4c4" stroke="#9a9a9a" stroke-width="0.7"/>
<rect x="706.90" y="315.1" width="5" height="60.4" fill="#f2b6bc" stroke="#d4949c" stroke-width="0.7"/>
<rect x="711.90" y="326.7" width="5" height="48.8" fill="#c4c4c4" stroke="#9a9a9a" stroke-width="0.7"/>
<rect x="716.90" y="327.6" width="5" height="47.9" fill="#c4c4c4" stroke="#9a9a9a" stroke-width="0.7"/>
<rect x="625.5" y="72.4" width="42.3" height="21.2" fill="#6e6e6e" fill-opacity="0.6"/>
<rect x="625.5" y="95.1" width="15.6" height="22.7" fill="#6e6e6e" fill-opacity="0.6"/>
<rect x="641.1" y="95.1" width="32.7" height="22.7" fill="#c85050" fill-opacity="0.54"/>
<rect x="625.5" y="166.9" width="15.2" height="21.8" fill="#6e6e6e" fill-opacity="0.6"/>
<rect x="625.5" y="190.4" width="32.3" height="22.2" fill="#6e6e6e" fill-opacity="0.6"/>
<rect x="625.5" y="214.1" width="19.9" height="23.2" fill="#6e6e6e" fill-opacity="0.6"/>
<rect x="645.4" y="214.1" width="23.5" height="23.2" fill="#c85050" fill-opacity="0.54"/>
<rect x="625.5" y="238.8" width="27.3" height="22.7" fill="#c85050" fill-opacity="0.54"/>
<rect x="625.5" y="263.5" width="15.0" height="22.2" fill="#6e6e6e" fill-opacity="0.6"/>
<rect x="625.5" y="286.7" width="15.0" height="22.9" fill="#6e6e6e" fill-opacity="0.6"/>
<rect x="640.5" y="286.7" width="16.0" height="22.9" fill="#c85050" fill-opacity="0.54"/>
<rect x="625.5" y="311.3" width="7.5" height="23.0" fill="#6e6e6e" fill-opacity="0.6"/>
<rect x="633.0" y="311.3" width="28.5" height="23.0" fill="#c85050" fill-opacity="0.54"/>
<rect x="625.5" y="335.5" width="39.7" height="23.5" fill="#c85050" fill-opacity="0.54"/>
<path d="M619.4,332.1 L624.4,333.2 L629.4,334.3 L634.4,337.8 L639.4,337.5 L644.4,332.2 L649.4,327.7 L654.4,323.4 L659.4,317.7 L664.4,313.1 L669.4,311.9 L674.4,309.1 L679.4,306.2 L684.4,301.5 L689.4,291.5 L694.4,274.5 L699.4,264.0 L704.4,252.8 L709.4,241.5 L714.4,229.6 L719.4,216.8" fill="none" stroke="#4d7a4d" stroke-width="1.2" stroke-dasharray="1.6,2.2"/>
<path d="M619.4,234.6 L624.4,236.0 L629.4,238.5 L634.4,243.7 L639.4,242.7 L644.4,225.1 L649.4,212.2 L654.4,200.6 L659.4,202.3 L664.4,211.0 L669.4,209.5 L674.4,199.4 L679.4,189.7 L684.4,184.0 L689.4,171.0 L694.4,143.6 L699.4,116.4 L704.4,90.1 L709.4,74.4 L714.4,52.2 L719.4,32.6" fill="none" stroke="#2f6e2f" stroke-width="1.1"/>
<path d="M619.4,431.1 L624.4,431.8 L629.4,431.6 L634.4,433.3 L639.4,433.7 L644.4,441.1 L649.4,445.3 L654.4,448.6 L659.4,435.1 L664.4,416.9 L669.4,415.9 L674.4,420.7 L679.4,424.8 L684.4,421.3 L689.4,414.3 L694.4,408.2 L699.4,415.0 L704.4,419.8 L709.4,413.1 L714.4,412.1 L719.4,406.4" fill="none" stroke="#2f6e2f" stroke-width="1.1"/>
<path d="M619.4,444.4 L624.4,439.9 L629.4,437.1 L634.4,435.1 L639.4,429.7 L644.4,423.2 L649.4,414.6 L654.4,404.3 L659.4,395.2 L664.4,389.1 L669.4,381.0 L674.4,373.3 L679.4,364.4 L684.4,357.3 L689.4,350.5 L694.4,339.8 L699.4,329.7 L704.4,320.0 L709.4,311.1 L714.4,301.1 L719.4,292.8" fill="none" stroke="#1c1c80" stroke-width="1.1"/>
<line x1="629.4" y1="309.5" x2="629.4" y2="357.5" stroke="#000" stroke-width="1"/>
<rect x="627.4" y="317.2" width="4" height="14.9" fill="#fff" stroke="#000" stroke-width="1"/>
<line x1="634.4" y1="318.3" x2="634.4" y2="358.1" stroke="#c0103a" stroke-width="1"/>
<rect x="631.9" y="330.0" width="5" height="28.0" fill="#c0103a"/>
<line x1="639.4" y1="273.5" x2="639.4" y2="352.3" stroke="#000" stroke-width="1"/>
<rect x="637.4" y="282.5" width="4" height="55.4" fill="#fff" stroke="#000" stroke-width="1"/>
<line x1="644.4" y1="216.2" x2="644.4" y2="291.2" stroke="#000" stroke-width="1"/>
<rect x="642.4" y="222.5" width="4" height="61.7" fill="#fff" stroke="#000" stroke-width="1"/>
<line x1="649.4" y1="199.9" x2="649.4" y2="249.7" stroke="#c0103a" stroke-width="1"/>
<rect x="646.9" y="213.2" width="5" height="18.5" fill="#c0103a"/>
<line x1="654.4" y1="205.5" x2="654.4" y2="249.0" stroke="#000" stroke-width="1"/>
<rect x="652.4" y="230.7" width="4" height="2.8" fill="#fff" stroke="#000" stroke-width="1"/>
<line x1="659.4" y1="241.3" x2="659.4" y2="307.5" stroke="#c0103a" stroke-width="1"/>
<rect x="656.9" y="254.9" width="5" height="47.9" fill="#c0103a"/>
<line x1="664.4" y1="322.3" x2="664.4" y2="367.2" stroke="#c0103a" stroke-width="1"/>
<rect x="661.9" y="322.3" width="5" height="27.4" fill="#c0103a"/>
<line x1="669.4" y1="271.8" x2="669.4" y2="327.3" stroke="#000" stroke-width="1"/>
<rect x="666.9" y="287.2" width="5" height="6.8" fill="#000"/>
<line x1="674.4" y1="200.0" x2="674.4" y2="286.5" stroke="#000" stroke-width="1"/>
<rect x="672.4" y="211.2" width="4" height="75.3" fill="#fff" stroke="#000" stroke-width="1"/>
<line x1="679.4" y1="172.4" x2="679.4" y2="231.4" stroke="#000" stroke-width="1"/>
<rect x="676.9" y="179.0" width="5" height="32.1" fill="#000"/>
<line x1="684.4" y1="226.5" x2="684.4" y2="271.2" stroke="#c0103a" stroke-width="1"/>
<rect x="681.9" y="233.6" width="5" height="16.6" fill="#c0103a"/>
<line x1="689.4" y1="170.4" x2="689.4" y2="262.8" stroke="#000" stroke-width="1"/>
<rect x="687.4" y="187.6" width="4" height="57.7" fill="#fff" stroke="#000" stroke-width="1"/>
<line x1="694.4" y1="83.1" x2="694.4" y2="157.5" stroke="#000" stroke-width="1"/>
<rect x="692.4" y="95.5" width="4" height="62.0" fill="#fff" stroke="#000" stroke-width="1"/>
<line x1="699.4" y1="70.3" x2="699.4" y2="118.7" stroke="#c0103a" stroke-width="1"/>
<rect x="696.9" y="94.6" width="5" height="13.7" fill="#c0103a"/>
<line x1="704.4" y1="86.6" x2="704.4" y2="124.3" stroke="#000" stroke-width="1"/>
<rect x="702.4" y="93.3" width="4" height="18.7" fill="#fff" stroke="#000" stroke-width="1"/>
<line x1="709.4" y1="70.4" x2="709.4" y2="123.0" stroke="#c0103a" stroke-width="1"/>
<rect x="706.9" y="90.9" width="5" height="26.8" fill="#c0103a"/>
<line x1="714.4" y1="72.2" x2="714.4" y2="127.3" stroke="#000" stroke-width="1"/>
<rect x="712.4" y="78.3" width="4" height="37.7" fill="#fff" stroke="#000" stroke-width="1"/>
<line x1="719.4" y1="35.7" x2="719.4" y2="81.6" stroke="#000" stroke-width="1"/>
<rect x="716.9" y="62.0" width="5" height="8.9" fill="#000"/>
</g>
<rect x="625.5" y="28.5" width="101.0" height="347.0" fill="none" stroke="#a8a8a8"/>
<text x="730.5" y="361.0" font-family="Liberation Sans, sans-serif" font-size="10.3" fill="#000" textLength="22.6" lengthAdjust="spacing">4110</text>
<text x="730.5" y="345.5" font-family="Liberation Sans, sans-serif" font-size="10.3" fill="#000" textLength="22.6" lengthAdjust="spacing">4120</text>
<text x="730.5" y="330.0" font-family="Liberation Sans, sans-serif" font-size="10.3" fill="#000" textLength="22.6" lengthAdjust="spacing">4130</text>
<text x="730.5" y="314.5" font-family="Liberation Sans, sans-serif" font-size="10.3" fill="#000" textLength="22.6" lengthAdjust="spacing">4140</text>
<text x="730.5" y="299.1" font-family="Liberation Sans, sans-serif" font-size="10.3" fill="#000" textLength="22.6" lengthAdjust="spacing">4150</text>
<text x="730.5" y="283.7" font-family="Liberation Sans, sans-serif" font-size="10.3" fill="#000" textLength="22.6" lengthAdjust="spacing">4160</text>
<text x="730.5" y="268.4" font-family="Liberation Sans, sans-serif" font-size="10.3" fill="#000" textLength="22.6" lengthAdjust="spacing">4170</text>
<text x="730.5" y="253.1" font-family="Liberation Sans, sans-serif" font-size="10.3" fill="#000" textLength="22.6" lengthAdjust="spacing">4180</text>
<text x="730.5" y="237.9" font-family="Liberation Sans, sans-serif" font-size="10.3" fill="#000" textLength="22.6" lengthAdjust="spacing">4190</text>
<text x="730.5" y="222.6" font-family="Liberation Sans, sans-serif" font-size="10.3" fill="#000" textLength="22.6" lengthAdjust="spacing">4200</text>
<text x="730.5" y="207.4" font-family="Liberation Sans, sans-serif" font-size="10.3" fill="#000" textLength="22.6" lengthAdjust="spacing">4210</text>
<text x="730.5" y="192.3" font-family="Liberation Sans, sans-serif" font-size="10.3" fill="#000" textLength="22.6" lengthAdjust="spacing">4220</text>
<text x="730.5" y="177.2" font-family="Liberation Sans, sans-serif" font-size="10.3" fill="#000" textLength="22.6" lengthAdjust="spacing">4230</text>
<text x="730.5" y="162.1" font-family="Liberation Sans, sans-serif" font-size="10.3" fill="#000" textLength="22.6" lengthAdjust="spacing">4240</text>
<text x="730.5" y="147.0" font-family="Liberation Sans, sans-serif" font-size="10.3" fill="#000" textLength="22.6" lengthAdjust="spacing">4250</text>
<text x="730.5" y="132.0" font-family="Liberation Sans, sans-serif" font-size="10.3" fill="#000" textLength="22.6" lengthAdjust="spacing">4260</text>
<text x="730.5" y="117.1" font-family="Liberation Sans, sans-serif" font-size="10.3" fill="#000" textLength="22.6" lengthAdjust="spacing">4270</text>
<text x="730.5" y="102.1" font-family="Liberation Sans, sans-serif" font-size="10.3" fill="#000" textLength="22.6" lengthAdjust="spacing">4280</text>
<text x="730.5" y="87.2" font-family="Liberation Sans, sans-serif" font-size="10.3" fill="#000" textLength="22.6" lengthAdjust="spacing">4290</text>
<text x="730.5" y="72.3" font-family="Liberation Sans, sans-serif" font-size="10.3" fill="#000" textLength="22.6" lengthAdjust="spacing">4300</text>
<text x="730.5" y="57.5" font-family="Liberation Sans, sans-serif" font-size="10.3" fill="#000" textLength="22.6" lengthAdjust="spacing">4310</text>
<text x="730.5" y="42.7" font-family="Liberation Sans, sans-serif" font-size="10.3" fill="#000" textLength="22.6" lengthAdjust="spacing">4320</text>
<path d="M724.2,31.3 L728,26.7 L769.3,26.7 L769.3,35.9 L728,35.9 Z" fill="#fff" stroke="#1f6a1f" stroke-width="1.1"/>
<text x="728.8" y="34.5" font-family="Liberation Sans, sans-serif" font-size="9.8" fill="#000" textLength="39" lengthAdjust="spacing">4324.71</text>
<path d="M724.2,70.4 L728,65.8 L769.3,65.8 L769.3,75.0 L728,75.0 Z" fill="#fff" stroke="#000" stroke-width="1.6"/>
<text x="728.8" y="73.6" font-family="Liberation Sans, sans-serif" font-size="10.5" font-weight="bold" fill="#000" textLength="39" lengthAdjust="spacing">4298.86</text>
<path d="M724.2,216.4 L728,211.8 L769.3,211.8 L769.3,221.0 L728,221.0 Z" fill="#fff" stroke="#1f6a1f" stroke-width="1.1"/>
<text x="728.8" y="219.6" font-family="Liberation Sans, sans-serif" font-size="9.8" fill="#000" textLength="39" lengthAdjust="spacing">4201.80</text>
<path d="M724.2,293.9 L728,289.3 L769.3,289.3 L769.3,298.5 L728,298.5 Z" fill="#fff" stroke="#1c1c80" stroke-width="1.1"/>
<text x="728.8" y="297.1" font-family="Liberation Sans, sans-serif" font-size="9.8" fill="#000" textLength="39" lengthAdjust="spacing">4152.10</text>
<path d="M724.2,326.4 L728,321.8 L769.3,321.8 L769.3,331.0 L728,331.0 Z" fill="#fff" stroke="#333" stroke-width="1.1"/>
<text x="728.8" y="329.6" font-family="Liberation Sans, sans-serif" font-size="9.8" fill="#000" textLength="39" lengthAdjust="spacing">2116680</text>
<text x="628.8" y="385.8" font-family="Liberation Sans, sans-serif" font-size="10" fill="#000" text-anchor="middle">15</text>
<text x="628.8" y="765" font-family="Liberation Sans, sans-serif" font-size="10" fill="#000" text-anchor="middle">15</text>
<text x="653.5" y="385.8" font-family="Liberation Sans, sans-serif" font-size="10" fill="#000" text-anchor="middle">22</text>
<text x="653.5" y="765" font-family="Liberation Sans, sans-serif" font-size="10" fill="#000" text-anchor="middle">22</text>
<text x="690.2" y="385.8" font-family="Liberation Sans, sans-serif" font-size="10.5" font-weight="bold" fill="#000" text-anchor="middle">Jun</text>
<text x="690.2" y="765" font-family="Liberation Sans, sans-serif" font-size="10.5" font-weight="bold" fill="#000" text-anchor="middle">Jun</text>
<line x1="625.5" y1="398.5" x2="726.5" y2="398.5" stroke="#d6d6d6"/>
<line x1="625.5" y1="418.5" x2="726.5" y2="418.5" stroke="#d6d6d6"/>
<line x1="625.5" y1="437.5" x2="726.5" y2="437.5" stroke="#d6d6d6"/>
<line x1="625.5" y1="457.5" x2="726.5" y2="457.5" stroke="#d6d6d6"/>
<line x1="625.5" y1="478.5" x2="726.5" y2="478.5" stroke="#d6d6d6"/>
<line x1="625.5" y1="499.5" x2="726.5" y2="499.5" stroke="#d6d6d6"/>
<line x1="629.5" y1="389.5" x2="629.5" y2="755.5" stroke="#d6d6d6"/>
<line x1="654.5" y1="389.5" x2="654.5" y2="755.5" stroke="#d6d6d6"/>
<line x1="679.5" y1="389.5" x2="679.5" y2="755.5" stroke="#d6d6d6"/>
<line x1="689.5" y1="389.5" x2="689.5" y2="755.5" stroke="#d6d6d6"/>
<line x1="699.5" y1="389.5" x2="699.5" y2="755.5" stroke="#d6d6d6"/>
<line x1="724.5" y1="389.5" x2="724.5" y2="755.5" stroke="#d6d6d6"/>
<path d="M625.5,482.9 L629.4,461.4 L634.4,504.4 L639.4,466.0 L644.4,427.9 L649.4,439.6 L654.4,445.5 L659.4,487.6 L664.4,496.9 L669.4,486.4 L674.4,448.3 L679.4,463.7 L684.4,470.0 L689.4,435.0 L694.4,401.0 L699.4,426.3 L704.4,396.4 L709.4,440.3 L714.4,405.3 L719.4,427.9" fill="none" stroke="#000" stroke-width="1.8" stroke-linejoin="round"/>
<rect x="625.5" y="389.5" width="101.0" height="122.0" fill="none" stroke="#a8a8a8"/>
<line x1="625.5" y1="530.5" x2="726.5" y2="530.5" stroke="#d6d6d6"/>
<line x1="625.5" y1="550.5" x2="726.5" y2="550.5" stroke="#d6d6d6"/>
<line x1="625.5" y1="570.5" x2="726.5" y2="570.5" stroke="#d6d6d6"/>
<line x1="625.5" y1="591.5" x2="726.5" y2="591.5" stroke="#d6d6d6"/>
<line x1="625.5" y1="612.5" x2="726.5" y2="612.5" stroke="#d6d6d6"/>
<path d="M625.5,622.0 L629.4,603.6 L634.4,626.0 L639.4,602.0 L644.4,577.7 L649.4,601.5 L654.4,578.5 L659.4,602.0 L664.4,626.0 L669.4,593.0 L674.4,560.0 L679.4,544.8 L684.4,590.0 L689.4,563.0 L694.4,536.2 L699.4,558.2 L704.4,535.0 L709.4,560.0 L714.4,539.0 L719.4,518.4" fill="none" stroke="#000" stroke-width="1.8" stroke-linejoin="round"/>
<rect x="625.5" y="511.5" width="101.0" height="122.0" fill="none" stroke="#a8a8a8"/>
<line x1="625.5" y1="651.5" x2="726.5" y2="651.5" stroke="#d6d6d6"/>
<line x1="625.5" y1="662.5" x2="726.5" y2="662.5" stroke="#d6d6d6"/>
<line x1="625.5" y1="684.5" x2="726.5" y2="684.5" stroke="#d6d6d6"/>
<line x1="625.5" y1="705.5" x2="726.5" y2="705.5" stroke="#d6d6d6"/>
<line x1="625.5" y1="727.5" x2="726.5" y2="727.5" stroke="#d6d6d6"/>
<line x1="625.5" y1="737.5" x2="726.5" y2="737.5" stroke="#d6d6d6"/>
<line x1="625.5" y1="673.5" x2="726.5" y2="673.5" stroke="#555"/>
<line x1="625.5" y1="716.5" x2="726.5" y2="716.5" stroke="#555"/>
<line x1="625.5" y1="694.5" x2="726.5" y2="694.5" stroke="#555" stroke-dasharray="6,2,1,2"/>
<path d="M625.5,691.7 L629.4,690.2 L634.4,694.8 L639.4,687.5 L644.4,682.6 L649.4,683.7 L654.4,683.6 L659.4,692.4 L664.4,697.2 L669.4,691.6 L674.4,684.7 L679.4,684.7 L684.4,689.2 L689.4,684.0 L694.4,677.6 L699.4,679.2 L704.4,678.1 L709.4,681.3 L714.4,678.4 L719.4,677.8" fill="none" stroke="#000" stroke-width="1"/>
<rect x="625.5" y="633.5" width="101.0" height="122.0" fill="none" stroke="#a8a8a8"/>
<text x="729.5" y="654.8" font-family="Liberation Sans, sans-serif" font-size="10" fill="#000" textLength="11.5" lengthAdjust="spacing">90</text>
<text x="729.5" y="676.3" font-family="Liberation Sans, sans-serif" font-size="10" fill="#000" textLength="11.5" lengthAdjust="spacing">70</text>
<text x="729.5" y="697.9" font-family="Liberation Sans, sans-serif" font-size="10" fill="#000" textLength="11.5" lengthAdjust="spacing">50</text>
<text x="729.5" y="719.4" font-family="Liberation Sans, sans-serif" font-size="10" fill="#000" textLength="11.5" lengthAdjust="spacing">30</text>
<text x="729.5" y="740.9" font-family="Liberation Sans, sans-serif" font-size="10" fill="#000" textLength="11.5" lengthAdjust="spacing">10</text>
<path d="M726.5,676.7 L732,671.7 L758,671.7 L758,681.7 L732,681.7 Z" fill="#fff" stroke="#333" stroke-width="1.1"/>
<text x="733" y="680.5" font-family="Liberation Sans, sans-serif" font-size="10.5" fill="#000" textLength="24" lengthAdjust="spacingAndGlyphs">65.78</text>
</svg></body></html>
